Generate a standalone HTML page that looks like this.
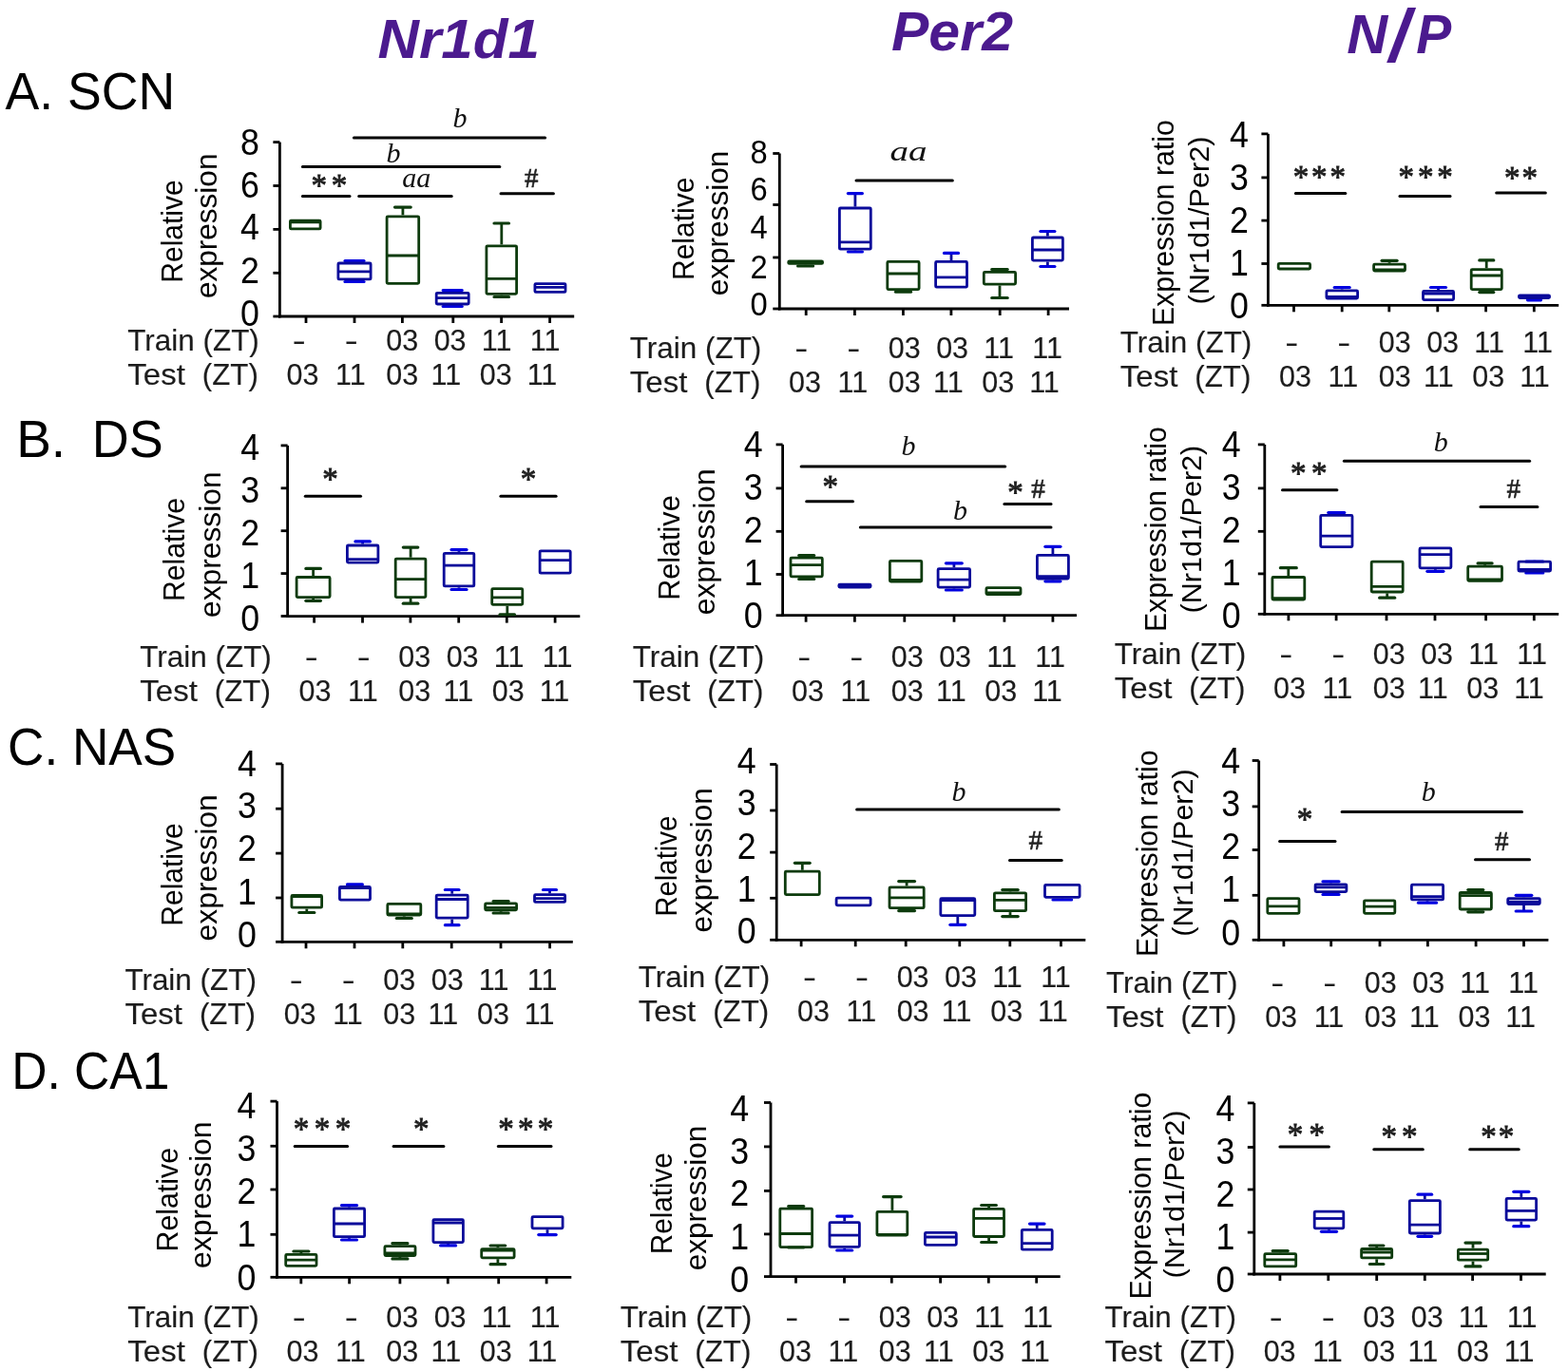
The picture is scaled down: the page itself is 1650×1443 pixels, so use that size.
<!DOCTYPE html><html><head><meta charset="utf-8"><title>Figure</title><style>html,body{margin:0;padding:0;background:#fff;}svg{display:block;}</style></head><body>
<svg width="1650" height="1443" viewBox="0 0 1650 1443">
<rect width="1650" height="1443" fill="#fff"/>
<g font-family="Liberation Sans" font-weight="bold" font-style="italic" font-size="57" fill="#4b1a8e">
<text x="397.5" y="61.3" textLength="170.5" lengthAdjust="spacingAndGlyphs">Nr1d1</text>
<text x="938" y="52.7" textLength="128" lengthAdjust="spacingAndGlyphs">Per2</text>
<text x="1417.2" y="55.8" textLength="43" lengthAdjust="spacingAndGlyphs">N</text>
<text x="1462" y="65.0" font-size="77">/</text>
<text x="1490.3" y="55.8" textLength="37" lengthAdjust="spacingAndGlyphs">P</text>
</g>
<g font-family="Liberation Sans" font-size="55" fill="#000">
<text x="5.5" y="115.2" textLength="178.8" lengthAdjust="spacingAndGlyphs">A. SCN</text>
<text x="17.2" y="481.1">B.</text><text x="96.8" y="481.1" textLength="75" lengthAdjust="spacingAndGlyphs">DS</text>
<text x="8.0" y="804.8" textLength="177.3" lengthAdjust="spacingAndGlyphs">C. NAS</text>
<text x="12.2" y="1145.5" textLength="166.3" lengthAdjust="spacingAndGlyphs">D. CA1</text>
</g>
<line x1="294.4" y1="149.6" x2="294.4" y2="334.4" stroke="#000" stroke-width="2.8" stroke-linecap="butt"/>
<line x1="293.0" y1="333.0" x2="604.2" y2="333.0" stroke="#000" stroke-width="2.8" stroke-linecap="butt"/>
<line x1="287.4" y1="149.6" x2="294.4" y2="149.6" stroke="#000" stroke-width="2.8" stroke-linecap="butt"/>
<line x1="287.4" y1="195.5" x2="294.4" y2="195.5" stroke="#000" stroke-width="2.8" stroke-linecap="butt"/>
<line x1="287.4" y1="241.4" x2="294.4" y2="241.4" stroke="#000" stroke-width="2.8" stroke-linecap="butt"/>
<line x1="287.4" y1="287.3" x2="294.4" y2="287.3" stroke="#000" stroke-width="2.8" stroke-linecap="butt"/>
<line x1="287.4" y1="333.0" x2="294.4" y2="333.0" stroke="#000" stroke-width="2.8" stroke-linecap="butt"/>
<line x1="322.0" y1="333.0" x2="322.0" y2="340.0" stroke="#000" stroke-width="2.8" stroke-linecap="butt"/>
<line x1="373.0" y1="333.0" x2="373.0" y2="340.0" stroke="#000" stroke-width="2.8" stroke-linecap="butt"/>
<line x1="423.4" y1="333.0" x2="423.4" y2="340.0" stroke="#000" stroke-width="2.8" stroke-linecap="butt"/>
<line x1="476.8" y1="333.0" x2="476.8" y2="340.0" stroke="#000" stroke-width="2.8" stroke-linecap="butt"/>
<line x1="527.6" y1="333.0" x2="527.6" y2="340.0" stroke="#000" stroke-width="2.8" stroke-linecap="butt"/>
<line x1="578.6" y1="333.0" x2="578.6" y2="340.0" stroke="#000" stroke-width="2.8" stroke-linecap="butt"/>
<text x="252.9" y="163.2" font-size="39" font-family="Liberation Sans" fill="#000" textLength="19.9" lengthAdjust="spacingAndGlyphs">8</text>
<text x="252.9" y="207.6" font-size="39" font-family="Liberation Sans" fill="#000" textLength="19.9" lengthAdjust="spacingAndGlyphs">6</text>
<text x="252.9" y="252.4" font-size="39" font-family="Liberation Sans" fill="#000" textLength="19.9" lengthAdjust="spacingAndGlyphs">4</text>
<text x="252.9" y="298.0" font-size="39" font-family="Liberation Sans" fill="#000" textLength="19.9" lengthAdjust="spacingAndGlyphs">2</text>
<text x="252.9" y="342.9" font-size="39" font-family="Liberation Sans" fill="#000" textLength="19.9" lengthAdjust="spacingAndGlyphs">0</text>
<rect x="305.4" y="232.1" width="31.7" height="8.8" fill="none" stroke="#0d3b0d" stroke-width="2.8" rx="1"/>
<line x1="305.4" y1="233.8" x2="337.1" y2="233.8" stroke="#0d3b0d" stroke-width="2.8" stroke-linecap="butt"/>
<line x1="373.0" y1="274.5" x2="373.0" y2="275.6" stroke="#0a0a9a" stroke-width="2.8" stroke-linecap="butt"/>
<line x1="363.0" y1="274.5" x2="383.0" y2="274.5" stroke="#0000e0" stroke-width="3.2" stroke-linecap="round"/>
<line x1="373.0" y1="295.3" x2="373.0" y2="296.5" stroke="#0a0a9a" stroke-width="2.8" stroke-linecap="butt"/>
<line x1="363.0" y1="296.5" x2="383.0" y2="296.5" stroke="#0000e0" stroke-width="3.2" stroke-linecap="round"/>
<rect x="355.9" y="277.0" width="34.2" height="16.9" fill="none" stroke="#0a0a9a" stroke-width="2.8" rx="1"/>
<line x1="355.9" y1="285.9" x2="390.1" y2="285.9" stroke="#0a0a9a" stroke-width="2.8" stroke-linecap="butt"/>
<line x1="423.9" y1="218.1" x2="423.9" y2="226.4" stroke="#0d3b0d" stroke-width="2.8" stroke-linecap="butt"/>
<line x1="415.5" y1="218.1" x2="432.2" y2="218.1" stroke="#0d3b0d" stroke-width="3.2" stroke-linecap="round"/>
<rect x="407.1" y="227.8" width="33.6" height="70.5" fill="none" stroke="#0d3b0d" stroke-width="2.8" rx="1"/>
<line x1="407.1" y1="269.0" x2="440.7" y2="269.0" stroke="#0d3b0d" stroke-width="2.8" stroke-linecap="butt"/>
<line x1="476.2" y1="305.5" x2="476.2" y2="306.9" stroke="#0a0a9a" stroke-width="2.8" stroke-linecap="butt"/>
<line x1="466.2" y1="305.5" x2="486.2" y2="305.5" stroke="#0000e0" stroke-width="3.2" stroke-linecap="round"/>
<line x1="476.2" y1="321.4" x2="476.2" y2="322.5" stroke="#0a0a9a" stroke-width="2.8" stroke-linecap="butt"/>
<line x1="466.2" y1="322.5" x2="486.2" y2="322.5" stroke="#0000e0" stroke-width="3.2" stroke-linecap="round"/>
<rect x="459.2" y="308.3" width="34.0" height="11.7" fill="none" stroke="#0a0a9a" stroke-width="2.8" rx="1"/>
<line x1="459.2" y1="313.6" x2="493.2" y2="313.6" stroke="#0a0a9a" stroke-width="2.8" stroke-linecap="butt"/>
<line x1="527.8" y1="235.0" x2="527.8" y2="257.4" stroke="#0d3b0d" stroke-width="2.8" stroke-linecap="butt"/>
<line x1="520.0" y1="235.0" x2="535.5" y2="235.0" stroke="#0d3b0d" stroke-width="3.2" stroke-linecap="round"/>
<line x1="527.8" y1="310.7" x2="527.8" y2="312.5" stroke="#0d3b0d" stroke-width="2.8" stroke-linecap="butt"/>
<line x1="520.0" y1="312.5" x2="535.5" y2="312.5" stroke="#0d3b0d" stroke-width="3.2" stroke-linecap="round"/>
<rect x="511.9" y="258.8" width="31.7" height="50.5" fill="none" stroke="#0d3b0d" stroke-width="2.8" rx="1"/>
<line x1="511.9" y1="293.3" x2="543.6" y2="293.3" stroke="#0d3b0d" stroke-width="2.8" stroke-linecap="butt"/>
<rect x="562.9" y="298.6" width="32.1" height="8.8" fill="none" stroke="#0a0a9a" stroke-width="2.8" rx="1"/>
<line x1="562.9" y1="302.4" x2="595.0" y2="302.4" stroke="#0a0a9a" stroke-width="2.8" stroke-linecap="butt"/>
<line x1="318.4" y1="206.4" x2="368.0" y2="206.4" stroke="#000" stroke-width="3.0" stroke-linecap="round"/>
<text x="335.8 356.9" y="205.5" font-size="33" text-anchor="middle" font-family="Liberation Serif" fill="#1e1e1e" stroke="#1e1e1e" stroke-width="0.85">**</text>
<line x1="377.7" y1="206.4" x2="475.2" y2="206.4" stroke="#000" stroke-width="3.0" stroke-linecap="round"/>
<text x="438.3" y="196.7" font-size="30" text-anchor="middle" font-family="Liberation Serif" fill="#111" font-style="italic">aa</text>
<line x1="318.4" y1="175.6" x2="525.8" y2="175.6" stroke="#000" stroke-width="3.0" stroke-linecap="round"/>
<text x="414.0" y="170.9" font-size="30" text-anchor="middle" font-family="Liberation Serif" fill="#111" font-style="italic">b</text>
<line x1="372.4" y1="144.9" x2="573.6" y2="144.9" stroke="#000" stroke-width="3.0" stroke-linecap="round"/>
<text x="484.0" y="134.3" font-size="30" text-anchor="middle" font-family="Liberation Serif" fill="#111" font-style="italic">b</text>
<line x1="527.0" y1="203.8" x2="582.4" y2="203.8" stroke="#000" stroke-width="3.0" stroke-linecap="round"/>
<text x="559.2" y="196.7" font-size="29" text-anchor="middle" font-family="Liberation Serif" fill="#222" stroke="#222" stroke-width="0.6">#</text>
<text transform="translate(191.7,243.5) rotate(-90)" font-size="32" text-anchor="middle" font-family="Liberation Sans" fill="#000" textLength="108.5" lengthAdjust="spacingAndGlyphs">Relative</text>
<text transform="translate(228.3,237.8) rotate(-90)" font-size="32" text-anchor="middle" font-family="Liberation Sans" fill="#000" textLength="152.5" lengthAdjust="spacingAndGlyphs">expression</text>
<g fill="#1c1c1c" stroke="#1c1c1c" stroke-width="0.15" font-family="Liberation Sans" font-size="30.5">
<text x="134.3" y="368.9" textLength="138.5" lengthAdjust="spacingAndGlyphs">Train (ZT)</text>
<text x="134.3" y="404.9" textLength="60.5" lengthAdjust="spacingAndGlyphs">Test</text>
<text x="212.8" y="404.9" textLength="59.0" lengthAdjust="spacingAndGlyphs">(ZT)</text>
<text x="307.7" y="368.9" textLength="14" lengthAdjust="spacingAndGlyphs">-</text>
<text x="362.7" y="368.9" textLength="14" lengthAdjust="spacingAndGlyphs">-</text>
<text x="423.2" y="368.9" text-anchor="middle">03</text>
<text x="473.6" y="368.9" text-anchor="middle">03</text>
<text x="522.6" y="368.9" text-anchor="middle">11</text>
<text x="573.6" y="368.9" text-anchor="middle">11</text>
<text x="318.5" y="404.9" text-anchor="middle">03</text>
<text x="368.9" y="404.9" text-anchor="middle">11</text>
<text x="423.2" y="404.9" text-anchor="middle">03</text>
<text x="469.3" y="404.9" text-anchor="middle">11</text>
<text x="521.8" y="404.9" text-anchor="middle">03</text>
<text x="570.5" y="404.9" text-anchor="middle">11</text>
</g>
<line x1="820.3" y1="161.5" x2="820.3" y2="326.4" stroke="#000" stroke-width="2.8" stroke-linecap="butt"/>
<line x1="818.9" y1="325.0" x2="1125.0" y2="325.0" stroke="#000" stroke-width="2.8" stroke-linecap="butt"/>
<line x1="813.3" y1="161.5" x2="820.3" y2="161.5" stroke="#000" stroke-width="2.8" stroke-linecap="butt"/>
<line x1="813.3" y1="215.5" x2="820.3" y2="215.5" stroke="#000" stroke-width="2.8" stroke-linecap="butt"/>
<line x1="813.3" y1="271.0" x2="820.3" y2="271.0" stroke="#000" stroke-width="2.8" stroke-linecap="butt"/>
<line x1="813.3" y1="325.0" x2="820.3" y2="325.0" stroke="#000" stroke-width="2.8" stroke-linecap="butt"/>
<line x1="848.2" y1="325.0" x2="848.2" y2="332.0" stroke="#000" stroke-width="2.8" stroke-linecap="butt"/>
<line x1="899.4" y1="325.0" x2="899.4" y2="332.0" stroke="#000" stroke-width="2.8" stroke-linecap="butt"/>
<line x1="950.4" y1="325.0" x2="950.4" y2="332.0" stroke="#000" stroke-width="2.8" stroke-linecap="butt"/>
<line x1="1000.9" y1="325.0" x2="1000.9" y2="332.0" stroke="#000" stroke-width="2.8" stroke-linecap="butt"/>
<line x1="1052.2" y1="325.0" x2="1052.2" y2="332.0" stroke="#000" stroke-width="2.8" stroke-linecap="butt"/>
<line x1="1103.1" y1="325.0" x2="1103.1" y2="332.0" stroke="#000" stroke-width="2.8" stroke-linecap="butt"/>
<text x="789.4" y="171.7" font-size="35.5" font-family="Liberation Sans" fill="#000" textLength="18.2" lengthAdjust="spacingAndGlyphs">8</text>
<text x="789.4" y="211.0" font-size="35.5" font-family="Liberation Sans" fill="#000" textLength="18.2" lengthAdjust="spacingAndGlyphs">6</text>
<text x="789.4" y="250.7" font-size="35.5" font-family="Liberation Sans" fill="#000" textLength="18.2" lengthAdjust="spacingAndGlyphs">4</text>
<text x="789.4" y="292.5" font-size="35.5" font-family="Liberation Sans" fill="#000" textLength="18.2" lengthAdjust="spacingAndGlyphs">2</text>
<text x="789.4" y="331.8" font-size="35.5" font-family="Liberation Sans" fill="#000" textLength="18.2" lengthAdjust="spacingAndGlyphs">0</text>
<line x1="847.6" y1="278.8" x2="847.6" y2="280.0" stroke="#0d3b0d" stroke-width="2.8" stroke-linecap="butt"/>
<line x1="839.6" y1="280.0" x2="855.6" y2="280.0" stroke="#0d3b0d" stroke-width="3.2" stroke-linecap="round"/>
<rect x="829.7" y="274.9" width="35.9" height="2.5" fill="#0d3b0d" stroke="#0d3b0d" stroke-width="2.8" rx="1"/>
<line x1="899.9" y1="203.6" x2="899.9" y2="217.6" stroke="#0a0a9a" stroke-width="2.8" stroke-linecap="butt"/>
<line x1="892.4" y1="203.6" x2="907.4" y2="203.6" stroke="#0000e0" stroke-width="3.2" stroke-linecap="round"/>
<line x1="899.9" y1="263.6" x2="899.9" y2="265.0" stroke="#0a0a9a" stroke-width="2.8" stroke-linecap="butt"/>
<line x1="892.4" y1="265.0" x2="907.4" y2="265.0" stroke="#0000e0" stroke-width="3.2" stroke-linecap="round"/>
<rect x="883.4" y="219.0" width="32.9" height="43.2" fill="none" stroke="#0a0a9a" stroke-width="2.8" rx="1"/>
<line x1="883.4" y1="254.8" x2="916.3" y2="254.8" stroke="#0a0a9a" stroke-width="2.8" stroke-linecap="butt"/>
<line x1="950.5" y1="306.0" x2="950.5" y2="307.2" stroke="#0d3b0d" stroke-width="2.8" stroke-linecap="butt"/>
<line x1="942.5" y1="307.2" x2="958.5" y2="307.2" stroke="#0d3b0d" stroke-width="3.2" stroke-linecap="round"/>
<rect x="933.8" y="275.4" width="33.3" height="29.2" fill="none" stroke="#0d3b0d" stroke-width="2.8" rx="1"/>
<line x1="933.8" y1="288.0" x2="967.1" y2="288.0" stroke="#0d3b0d" stroke-width="2.8" stroke-linecap="butt"/>
<line x1="1001.0" y1="266.4" x2="1001.0" y2="274.0" stroke="#0a0a9a" stroke-width="2.8" stroke-linecap="butt"/>
<line x1="993.5" y1="266.4" x2="1008.5" y2="266.4" stroke="#0000e0" stroke-width="3.2" stroke-linecap="round"/>
<rect x="984.6" y="275.4" width="32.9" height="26.8" fill="none" stroke="#0a0a9a" stroke-width="2.8" rx="1"/>
<line x1="984.6" y1="291.8" x2="1017.5" y2="291.8" stroke="#0a0a9a" stroke-width="2.8" stroke-linecap="butt"/>
<line x1="1052.0" y1="283.5" x2="1052.0" y2="285.0" stroke="#0d3b0d" stroke-width="2.8" stroke-linecap="butt"/>
<line x1="1043.7" y1="283.5" x2="1060.2" y2="283.5" stroke="#0d3b0d" stroke-width="3.2" stroke-linecap="round"/>
<line x1="1052.0" y1="300.5" x2="1052.0" y2="313.5" stroke="#0d3b0d" stroke-width="2.8" stroke-linecap="butt"/>
<line x1="1043.7" y1="313.5" x2="1060.2" y2="313.5" stroke="#0d3b0d" stroke-width="3.2" stroke-linecap="round"/>
<rect x="1035.3" y="286.4" width="33.3" height="12.7" fill="none" stroke="#0d3b0d" stroke-width="2.8" rx="1"/>
<line x1="1102.4" y1="243.5" x2="1102.4" y2="248.6" stroke="#0a0a9a" stroke-width="2.8" stroke-linecap="butt"/>
<line x1="1094.9" y1="243.5" x2="1109.9" y2="243.5" stroke="#0000e0" stroke-width="3.2" stroke-linecap="round"/>
<line x1="1102.4" y1="275.5" x2="1102.4" y2="280.5" stroke="#0a0a9a" stroke-width="2.8" stroke-linecap="butt"/>
<line x1="1094.9" y1="280.5" x2="1109.9" y2="280.5" stroke="#0000e0" stroke-width="3.2" stroke-linecap="round"/>
<rect x="1086.4" y="250.0" width="32.0" height="24.1" fill="none" stroke="#0a0a9a" stroke-width="2.8" rx="1"/>
<line x1="1086.4" y1="263.0" x2="1118.4" y2="263.0" stroke="#0a0a9a" stroke-width="2.8" stroke-linecap="butt"/>
<line x1="901.0" y1="190.0" x2="1002.3" y2="190.0" stroke="#000" stroke-width="3.0" stroke-linecap="round"/>
<text x="936.4" y="168.5" font-size="30" font-family="Liberation Serif" font-style="italic" fill="#111" textLength="39" lengthAdjust="spacingAndGlyphs">aa</text>
<text transform="translate(730.0,240.8) rotate(-90)" font-size="32" text-anchor="middle" font-family="Liberation Sans" fill="#000" textLength="108.5" lengthAdjust="spacingAndGlyphs">Relative</text>
<text transform="translate(765.5,235.0) rotate(-90)" font-size="32" text-anchor="middle" font-family="Liberation Sans" fill="#000" textLength="152.5" lengthAdjust="spacingAndGlyphs">expression</text>
<g fill="#1c1c1c" stroke="#1c1c1c" stroke-width="0.15" font-family="Liberation Sans" font-size="30.5">
<text x="662.8" y="376.9" textLength="138.5" lengthAdjust="spacingAndGlyphs">Train (ZT)</text>
<text x="662.8" y="412.9" textLength="60.5" lengthAdjust="spacingAndGlyphs">Test</text>
<text x="741.3" y="412.9" textLength="59.0" lengthAdjust="spacingAndGlyphs">(ZT)</text>
<text x="836.2" y="376.9" textLength="14" lengthAdjust="spacingAndGlyphs">-</text>
<text x="891.2" y="376.9" textLength="14" lengthAdjust="spacingAndGlyphs">-</text>
<text x="951.7" y="376.9" text-anchor="middle">03</text>
<text x="1002.1" y="376.9" text-anchor="middle">03</text>
<text x="1051.1" y="376.9" text-anchor="middle">11</text>
<text x="1102.1" y="376.9" text-anchor="middle">11</text>
<text x="847.0" y="412.9" text-anchor="middle">03</text>
<text x="897.4" y="412.9" text-anchor="middle">11</text>
<text x="951.7" y="412.9" text-anchor="middle">03</text>
<text x="997.8" y="412.9" text-anchor="middle">11</text>
<text x="1050.3" y="412.9" text-anchor="middle">03</text>
<text x="1099.0" y="412.9" text-anchor="middle">11</text>
</g>
<line x1="1334.4" y1="140.9" x2="1334.4" y2="322.7" stroke="#000" stroke-width="2.8" stroke-linecap="butt"/>
<line x1="1333.0" y1="321.3" x2="1640.2" y2="321.3" stroke="#000" stroke-width="2.8" stroke-linecap="butt"/>
<line x1="1327.4" y1="140.9" x2="1334.4" y2="140.9" stroke="#000" stroke-width="2.8" stroke-linecap="butt"/>
<line x1="1327.4" y1="186.9" x2="1334.4" y2="186.9" stroke="#000" stroke-width="2.8" stroke-linecap="butt"/>
<line x1="1327.4" y1="232.1" x2="1334.4" y2="232.1" stroke="#000" stroke-width="2.8" stroke-linecap="butt"/>
<line x1="1327.4" y1="277.5" x2="1334.4" y2="277.5" stroke="#000" stroke-width="2.8" stroke-linecap="butt"/>
<line x1="1327.4" y1="321.3" x2="1334.4" y2="321.3" stroke="#000" stroke-width="2.8" stroke-linecap="butt"/>
<line x1="1361.5" y1="321.3" x2="1361.5" y2="328.3" stroke="#000" stroke-width="2.8" stroke-linecap="butt"/>
<line x1="1412.2" y1="321.3" x2="1412.2" y2="328.3" stroke="#000" stroke-width="2.8" stroke-linecap="butt"/>
<line x1="1461.8" y1="321.3" x2="1461.8" y2="328.3" stroke="#000" stroke-width="2.8" stroke-linecap="butt"/>
<line x1="1512.8" y1="321.3" x2="1512.8" y2="328.3" stroke="#000" stroke-width="2.8" stroke-linecap="butt"/>
<line x1="1563.6" y1="321.3" x2="1563.6" y2="328.3" stroke="#000" stroke-width="2.8" stroke-linecap="butt"/>
<line x1="1614.3" y1="321.3" x2="1614.3" y2="328.3" stroke="#000" stroke-width="2.8" stroke-linecap="butt"/>
<text x="1294.1" y="154.5" font-size="39" font-family="Liberation Sans" fill="#000" textLength="19.9" lengthAdjust="spacingAndGlyphs">4</text>
<text x="1294.1" y="200.0" font-size="39" font-family="Liberation Sans" fill="#000" textLength="19.9" lengthAdjust="spacingAndGlyphs">3</text>
<text x="1294.1" y="245.3" font-size="39" font-family="Liberation Sans" fill="#000" textLength="19.9" lengthAdjust="spacingAndGlyphs">2</text>
<text x="1294.1" y="290.0" font-size="39" font-family="Liberation Sans" fill="#000" textLength="19.9" lengthAdjust="spacingAndGlyphs">1</text>
<text x="1294.1" y="334.7" font-size="39" font-family="Liberation Sans" fill="#000" textLength="19.9" lengthAdjust="spacingAndGlyphs">0</text>
<rect x="1345.2" y="277.4" width="33.4" height="5.6" fill="none" stroke="#0d3b0d" stroke-width="2.8" rx="1"/>
<line x1="1412.2" y1="302.5" x2="1412.2" y2="304.5" stroke="#0a0a9a" stroke-width="2.8" stroke-linecap="butt"/>
<line x1="1404.2" y1="302.5" x2="1420.2" y2="302.5" stroke="#0000e0" stroke-width="3.2" stroke-linecap="round"/>
<rect x="1395.9" y="305.9" width="32.7" height="8.2" fill="none" stroke="#0a0a9a" stroke-width="2.8" rx="1"/>
<line x1="1395.9" y1="312.3" x2="1428.6" y2="312.3" stroke="#0a0a9a" stroke-width="2.8" stroke-linecap="butt"/>
<line x1="1462.1" y1="274.3" x2="1462.1" y2="276.8" stroke="#0d3b0d" stroke-width="2.8" stroke-linecap="butt"/>
<line x1="1454.1" y1="274.3" x2="1470.1" y2="274.3" stroke="#0d3b0d" stroke-width="3.2" stroke-linecap="round"/>
<rect x="1445.6" y="278.2" width="32.9" height="6.8" fill="none" stroke="#0d3b0d" stroke-width="2.8" rx="1"/>
<line x1="1445.6" y1="283.8" x2="1478.5" y2="283.8" stroke="#0d3b0d" stroke-width="2.8" stroke-linecap="butt"/>
<line x1="1513.5" y1="302.5" x2="1513.5" y2="305.0" stroke="#0a0a9a" stroke-width="2.8" stroke-linecap="butt"/>
<line x1="1505.5" y1="302.5" x2="1521.5" y2="302.5" stroke="#0000e0" stroke-width="3.2" stroke-linecap="round"/>
<rect x="1497.5" y="306.4" width="32.1" height="9.2" fill="none" stroke="#0a0a9a" stroke-width="2.8" rx="1"/>
<line x1="1497.5" y1="309.2" x2="1529.6" y2="309.2" stroke="#0a0a9a" stroke-width="2.8" stroke-linecap="butt"/>
<line x1="1564.2" y1="273.9" x2="1564.2" y2="282.3" stroke="#0d3b0d" stroke-width="2.8" stroke-linecap="butt"/>
<line x1="1556.8" y1="273.9" x2="1571.8" y2="273.9" stroke="#0d3b0d" stroke-width="3.2" stroke-linecap="round"/>
<line x1="1564.2" y1="306.0" x2="1564.2" y2="307.6" stroke="#0d3b0d" stroke-width="2.8" stroke-linecap="butt"/>
<line x1="1556.8" y1="307.6" x2="1571.8" y2="307.6" stroke="#0d3b0d" stroke-width="3.2" stroke-linecap="round"/>
<rect x="1548.2" y="283.7" width="32.1" height="20.9" fill="none" stroke="#0d3b0d" stroke-width="2.8" rx="1"/>
<line x1="1548.2" y1="290.0" x2="1580.3" y2="290.0" stroke="#0d3b0d" stroke-width="2.8" stroke-linecap="butt"/>
<line x1="1614.5" y1="315.0" x2="1614.5" y2="315.8" stroke="#0a0a9a" stroke-width="2.8" stroke-linecap="butt"/>
<line x1="1607.5" y1="315.8" x2="1621.5" y2="315.8" stroke="#0000e0" stroke-width="3.2" stroke-linecap="round"/>
<rect x="1598.4" y="311.0" width="32.2" height="2.6" fill="#0a0a9a" stroke="#0a0a9a" stroke-width="2.8" rx="1"/>
<line x1="1363.4" y1="203.6" x2="1415.8" y2="203.6" stroke="#000" stroke-width="3.0" stroke-linecap="round"/>
<text x="1369.0 1388.3 1407.7" y="196.5" font-size="33" text-anchor="middle" font-family="Liberation Serif" fill="#1e1e1e" stroke="#1e1e1e" stroke-width="0.85">***</text>
<line x1="1473.0" y1="206.4" x2="1526.0" y2="206.4" stroke="#000" stroke-width="3.0" stroke-linecap="round"/>
<text x="1479.8 1500.2 1520.5" y="196.5" font-size="33" text-anchor="middle" font-family="Liberation Serif" fill="#1e1e1e" stroke="#1e1e1e" stroke-width="0.85">***</text>
<line x1="1574.7" y1="203.0" x2="1626.3" y2="203.0" stroke="#000" stroke-width="3.0" stroke-linecap="round"/>
<text x="1591.2 1609.8" y="197.5" font-size="33" text-anchor="middle" font-family="Liberation Serif" fill="#1e1e1e" stroke="#1e1e1e" stroke-width="0.85">**</text>
<text transform="translate(1235.0,234.6) rotate(-90)" font-size="31" text-anchor="middle" font-family="Liberation Sans" fill="#000" textLength="216.7" lengthAdjust="spacingAndGlyphs">Expression ratio</text>
<text transform="translate(1272.2,232.0) rotate(-90)" font-size="29.5" text-anchor="middle" font-family="Liberation Sans" fill="#000" textLength="177.0" lengthAdjust="spacingAndGlyphs">(Nr1d1/Per2)</text>
<g fill="#1c1c1c" stroke="#1c1c1c" stroke-width="0.15" font-family="Liberation Sans" font-size="30.5">
<text x="1178.8" y="371.0" textLength="138.5" lengthAdjust="spacingAndGlyphs">Train (ZT)</text>
<text x="1178.8" y="407.0" textLength="60.5" lengthAdjust="spacingAndGlyphs">Test</text>
<text x="1257.3" y="407.0" textLength="59.0" lengthAdjust="spacingAndGlyphs">(ZT)</text>
<text x="1352.2" y="371.0" textLength="14" lengthAdjust="spacingAndGlyphs">-</text>
<text x="1407.2" y="371.0" textLength="14" lengthAdjust="spacingAndGlyphs">-</text>
<text x="1467.7" y="371.0" text-anchor="middle">03</text>
<text x="1518.1" y="371.0" text-anchor="middle">03</text>
<text x="1567.1" y="371.0" text-anchor="middle">11</text>
<text x="1618.1" y="371.0" text-anchor="middle">11</text>
<text x="1363.0" y="407.0" text-anchor="middle">03</text>
<text x="1413.4" y="407.0" text-anchor="middle">11</text>
<text x="1467.7" y="407.0" text-anchor="middle">03</text>
<text x="1513.8" y="407.0" text-anchor="middle">11</text>
<text x="1566.3" y="407.0" text-anchor="middle">03</text>
<text x="1615.0" y="407.0" text-anchor="middle">11</text>
</g>
<line x1="302.6" y1="468.9" x2="302.6" y2="650.0" stroke="#000" stroke-width="2.8" stroke-linecap="butt"/>
<line x1="301.2" y1="648.6" x2="610.3" y2="648.6" stroke="#000" stroke-width="2.8" stroke-linecap="butt"/>
<line x1="295.6" y1="468.9" x2="302.6" y2="468.9" stroke="#000" stroke-width="2.8" stroke-linecap="butt"/>
<line x1="295.6" y1="513.8" x2="302.6" y2="513.8" stroke="#000" stroke-width="2.8" stroke-linecap="butt"/>
<line x1="295.6" y1="558.7" x2="302.6" y2="558.7" stroke="#000" stroke-width="2.8" stroke-linecap="butt"/>
<line x1="295.6" y1="603.6" x2="302.6" y2="603.6" stroke="#000" stroke-width="2.8" stroke-linecap="butt"/>
<line x1="295.6" y1="648.5" x2="302.6" y2="648.5" stroke="#000" stroke-width="2.8" stroke-linecap="butt"/>
<line x1="330.6" y1="648.6" x2="330.6" y2="655.6" stroke="#000" stroke-width="2.8" stroke-linecap="butt"/>
<line x1="381.5" y1="648.6" x2="381.5" y2="655.6" stroke="#000" stroke-width="2.8" stroke-linecap="butt"/>
<line x1="431.9" y1="648.6" x2="431.9" y2="655.6" stroke="#000" stroke-width="2.8" stroke-linecap="butt"/>
<line x1="482.7" y1="648.6" x2="482.7" y2="655.6" stroke="#000" stroke-width="2.8" stroke-linecap="butt"/>
<line x1="533.3" y1="648.6" x2="533.3" y2="655.6" stroke="#000" stroke-width="2.8" stroke-linecap="butt"/>
<line x1="584.1" y1="648.6" x2="584.1" y2="655.6" stroke="#000" stroke-width="2.8" stroke-linecap="butt"/>
<text x="253.3" y="484.0" font-size="39" font-family="Liberation Sans" fill="#000" textLength="19.9" lengthAdjust="spacingAndGlyphs">4</text>
<text x="253.3" y="528.8" font-size="39" font-family="Liberation Sans" fill="#000" textLength="19.9" lengthAdjust="spacingAndGlyphs">3</text>
<text x="253.3" y="573.6" font-size="39" font-family="Liberation Sans" fill="#000" textLength="19.9" lengthAdjust="spacingAndGlyphs">2</text>
<text x="253.3" y="618.8" font-size="39" font-family="Liberation Sans" fill="#000" textLength="19.9" lengthAdjust="spacingAndGlyphs">1</text>
<text x="253.3" y="664.0" font-size="39" font-family="Liberation Sans" fill="#000" textLength="19.9" lengthAdjust="spacingAndGlyphs">0</text>
<line x1="329.6" y1="598.4" x2="329.6" y2="606.1" stroke="#0d3b0d" stroke-width="2.8" stroke-linecap="butt"/>
<line x1="321.9" y1="598.4" x2="337.4" y2="598.4" stroke="#0d3b0d" stroke-width="3.2" stroke-linecap="round"/>
<line x1="329.6" y1="630.0" x2="329.6" y2="632.3" stroke="#0d3b0d" stroke-width="2.8" stroke-linecap="butt"/>
<line x1="321.9" y1="632.3" x2="337.4" y2="632.3" stroke="#0d3b0d" stroke-width="3.2" stroke-linecap="round"/>
<rect x="312.1" y="607.5" width="35.0" height="21.1" fill="none" stroke="#0d3b0d" stroke-width="2.8" rx="1"/>
<line x1="381.6" y1="569.9" x2="381.6" y2="572.6" stroke="#0a0a9a" stroke-width="2.8" stroke-linecap="butt"/>
<line x1="373.9" y1="569.9" x2="389.4" y2="569.9" stroke="#0000e0" stroke-width="3.2" stroke-linecap="round"/>
<rect x="365.4" y="574.0" width="32.5" height="18.1" fill="none" stroke="#0a0a9a" stroke-width="2.8" rx="1"/>
<line x1="365.4" y1="588.7" x2="397.9" y2="588.7" stroke="#0a0a9a" stroke-width="2.8" stroke-linecap="butt"/>
<line x1="432.1" y1="576.1" x2="432.1" y2="586.7" stroke="#0d3b0d" stroke-width="2.8" stroke-linecap="butt"/>
<line x1="424.3" y1="576.1" x2="439.8" y2="576.1" stroke="#0d3b0d" stroke-width="3.2" stroke-linecap="round"/>
<line x1="432.1" y1="630.0" x2="432.1" y2="635.2" stroke="#0d3b0d" stroke-width="2.8" stroke-linecap="butt"/>
<line x1="424.3" y1="635.2" x2="439.8" y2="635.2" stroke="#0d3b0d" stroke-width="3.2" stroke-linecap="round"/>
<rect x="416.2" y="588.1" width="31.7" height="40.5" fill="none" stroke="#0d3b0d" stroke-width="2.8" rx="1"/>
<line x1="416.2" y1="609.6" x2="447.9" y2="609.6" stroke="#0d3b0d" stroke-width="2.8" stroke-linecap="butt"/>
<line x1="483.0" y1="578.6" x2="483.0" y2="580.9" stroke="#0a0a9a" stroke-width="2.8" stroke-linecap="butt"/>
<line x1="475.0" y1="578.6" x2="491.0" y2="578.6" stroke="#0000e0" stroke-width="3.2" stroke-linecap="round"/>
<line x1="483.0" y1="618.3" x2="483.0" y2="620.5" stroke="#0a0a9a" stroke-width="2.8" stroke-linecap="butt"/>
<line x1="475.0" y1="620.5" x2="491.0" y2="620.5" stroke="#0000e0" stroke-width="3.2" stroke-linecap="round"/>
<rect x="467.2" y="582.3" width="31.6" height="34.6" fill="none" stroke="#0a0a9a" stroke-width="2.8" rx="1"/>
<line x1="467.2" y1="595.1" x2="498.8" y2="595.1" stroke="#0a0a9a" stroke-width="2.8" stroke-linecap="butt"/>
<line x1="533.8" y1="637.7" x2="533.8" y2="646.9" stroke="#0d3b0d" stroke-width="2.8" stroke-linecap="butt"/>
<line x1="526.0" y1="646.9" x2="541.5" y2="646.9" stroke="#0d3b0d" stroke-width="3.2" stroke-linecap="round"/>
<rect x="517.7" y="619.7" width="32.1" height="16.6" fill="none" stroke="#0d3b0d" stroke-width="2.8" rx="1"/>
<line x1="517.7" y1="628.8" x2="549.8" y2="628.8" stroke="#0d3b0d" stroke-width="2.8" stroke-linecap="butt"/>
<rect x="568.1" y="579.8" width="32.1" height="23.4" fill="none" stroke="#0a0a9a" stroke-width="2.8" rx="1"/>
<line x1="568.1" y1="589.6" x2="600.2" y2="589.6" stroke="#0a0a9a" stroke-width="2.8" stroke-linecap="butt"/>
<line x1="321.3" y1="522.3" x2="379.5" y2="522.3" stroke="#000" stroke-width="3.0" stroke-linecap="round"/>
<text x="347.5" y="515.4" font-size="33" text-anchor="middle" font-family="Liberation Serif" fill="#1e1e1e" stroke="#1e1e1e" stroke-width="0.85">*</text>
<line x1="526.9" y1="522.3" x2="585.1" y2="522.3" stroke="#000" stroke-width="3.0" stroke-linecap="round"/>
<text x="556.0" y="515.4" font-size="33" text-anchor="middle" font-family="Liberation Serif" fill="#1e1e1e" stroke="#1e1e1e" stroke-width="0.85">*</text>
<text transform="translate(194.3,578.5) rotate(-90)" font-size="32" text-anchor="middle" font-family="Liberation Sans" fill="#000" textLength="109.2" lengthAdjust="spacingAndGlyphs">Relative</text>
<text transform="translate(231.7,573.2) rotate(-90)" font-size="32" text-anchor="middle" font-family="Liberation Sans" fill="#000" textLength="153.5" lengthAdjust="spacingAndGlyphs">expression</text>
<g fill="#1c1c1c" stroke="#1c1c1c" stroke-width="0.15" font-family="Liberation Sans" font-size="30.5">
<text x="147.3" y="701.5" textLength="138.5" lengthAdjust="spacingAndGlyphs">Train (ZT)</text>
<text x="147.3" y="737.5" textLength="60.5" lengthAdjust="spacingAndGlyphs">Test</text>
<text x="225.8" y="737.5" textLength="59.0" lengthAdjust="spacingAndGlyphs">(ZT)</text>
<text x="320.7" y="701.5" textLength="14" lengthAdjust="spacingAndGlyphs">-</text>
<text x="375.7" y="701.5" textLength="14" lengthAdjust="spacingAndGlyphs">-</text>
<text x="436.2" y="701.5" text-anchor="middle">03</text>
<text x="486.6" y="701.5" text-anchor="middle">03</text>
<text x="535.6" y="701.5" text-anchor="middle">11</text>
<text x="586.6" y="701.5" text-anchor="middle">11</text>
<text x="331.5" y="737.5" text-anchor="middle">03</text>
<text x="381.9" y="737.5" text-anchor="middle">11</text>
<text x="436.2" y="737.5" text-anchor="middle">03</text>
<text x="482.3" y="737.5" text-anchor="middle">11</text>
<text x="534.8" y="737.5" text-anchor="middle">03</text>
<text x="583.5" y="737.5" text-anchor="middle">11</text>
</g>
<line x1="823.6" y1="467.9" x2="823.6" y2="649.1" stroke="#000" stroke-width="2.8" stroke-linecap="butt"/>
<line x1="822.2" y1="647.7" x2="1133.0" y2="647.7" stroke="#000" stroke-width="2.8" stroke-linecap="butt"/>
<line x1="816.6" y1="467.9" x2="823.6" y2="467.9" stroke="#000" stroke-width="2.8" stroke-linecap="butt"/>
<line x1="816.6" y1="513.9" x2="823.6" y2="513.9" stroke="#000" stroke-width="2.8" stroke-linecap="butt"/>
<line x1="816.6" y1="559.3" x2="823.6" y2="559.3" stroke="#000" stroke-width="2.8" stroke-linecap="butt"/>
<line x1="816.6" y1="604.5" x2="823.6" y2="604.5" stroke="#000" stroke-width="2.8" stroke-linecap="butt"/>
<line x1="816.6" y1="647.7" x2="823.6" y2="647.7" stroke="#000" stroke-width="2.8" stroke-linecap="butt"/>
<line x1="848.1" y1="647.7" x2="848.1" y2="654.7" stroke="#000" stroke-width="2.8" stroke-linecap="butt"/>
<line x1="899.4" y1="647.7" x2="899.4" y2="654.7" stroke="#000" stroke-width="2.8" stroke-linecap="butt"/>
<line x1="951.8" y1="647.7" x2="951.8" y2="654.7" stroke="#000" stroke-width="2.8" stroke-linecap="butt"/>
<line x1="1004.0" y1="647.7" x2="1004.0" y2="654.7" stroke="#000" stroke-width="2.8" stroke-linecap="butt"/>
<line x1="1056.9" y1="647.7" x2="1056.9" y2="654.7" stroke="#000" stroke-width="2.8" stroke-linecap="butt"/>
<line x1="1107.9" y1="647.7" x2="1107.9" y2="654.7" stroke="#000" stroke-width="2.8" stroke-linecap="butt"/>
<text x="782.7" y="481.2" font-size="39" font-family="Liberation Sans" fill="#000" textLength="19.9" lengthAdjust="spacingAndGlyphs">4</text>
<text x="782.7" y="526.0" font-size="39" font-family="Liberation Sans" fill="#000" textLength="19.9" lengthAdjust="spacingAndGlyphs">3</text>
<text x="782.7" y="571.3" font-size="39" font-family="Liberation Sans" fill="#000" textLength="19.9" lengthAdjust="spacingAndGlyphs">2</text>
<text x="782.7" y="616.1" font-size="39" font-family="Liberation Sans" fill="#000" textLength="19.9" lengthAdjust="spacingAndGlyphs">1</text>
<text x="782.7" y="660.9" font-size="39" font-family="Liberation Sans" fill="#000" textLength="19.9" lengthAdjust="spacingAndGlyphs">0</text>
<line x1="848.7" y1="584.5" x2="848.7" y2="585.7" stroke="#0d3b0d" stroke-width="2.8" stroke-linecap="butt"/>
<line x1="840.7" y1="584.5" x2="856.7" y2="584.5" stroke="#0d3b0d" stroke-width="3.2" stroke-linecap="round"/>
<line x1="848.7" y1="608.2" x2="848.7" y2="609.5" stroke="#0d3b0d" stroke-width="2.8" stroke-linecap="butt"/>
<line x1="840.7" y1="609.5" x2="856.7" y2="609.5" stroke="#0d3b0d" stroke-width="3.2" stroke-linecap="round"/>
<rect x="832.0" y="587.1" width="33.3" height="19.7" fill="none" stroke="#0d3b0d" stroke-width="2.8" rx="1"/>
<line x1="832.0" y1="594.7" x2="865.3" y2="594.7" stroke="#0d3b0d" stroke-width="2.8" stroke-linecap="butt"/>
<rect x="882.8" y="615.2" width="33.3" height="2.9" fill="#0a0a9a" stroke="#0a0a9a" stroke-width="2.8" rx="1"/>
<rect x="936.4" y="590.4" width="33.4" height="21.7" fill="none" stroke="#0d3b0d" stroke-width="2.8" rx="1"/>
<line x1="936.4" y1="610.5" x2="969.8" y2="610.5" stroke="#0d3b0d" stroke-width="2.8" stroke-linecap="butt"/>
<line x1="1003.9" y1="592.8" x2="1003.9" y2="597.3" stroke="#0a0a9a" stroke-width="2.8" stroke-linecap="butt"/>
<line x1="995.4" y1="592.8" x2="1012.3" y2="592.8" stroke="#0000e0" stroke-width="3.2" stroke-linecap="round"/>
<line x1="1003.9" y1="619.5" x2="1003.9" y2="621.0" stroke="#0a0a9a" stroke-width="2.8" stroke-linecap="butt"/>
<line x1="995.4" y1="621.0" x2="1012.3" y2="621.0" stroke="#0000e0" stroke-width="3.2" stroke-linecap="round"/>
<rect x="987.1" y="598.7" width="33.5" height="19.4" fill="none" stroke="#0a0a9a" stroke-width="2.8" rx="1"/>
<line x1="987.1" y1="610.1" x2="1020.6" y2="610.1" stroke="#0a0a9a" stroke-width="2.8" stroke-linecap="butt"/>
<rect x="1037.9" y="618.7" width="36.1" height="6.9" fill="none" stroke="#0d3b0d" stroke-width="2.8" rx="1"/>
<line x1="1037.9" y1="624.0" x2="1074.0" y2="624.0" stroke="#0d3b0d" stroke-width="2.8" stroke-linecap="butt"/>
<line x1="1107.9" y1="575.3" x2="1107.9" y2="583.0" stroke="#0a0a9a" stroke-width="2.8" stroke-linecap="butt"/>
<line x1="1099.9" y1="575.3" x2="1115.9" y2="575.3" stroke="#0000e0" stroke-width="3.2" stroke-linecap="round"/>
<line x1="1107.9" y1="610.5" x2="1107.9" y2="611.8" stroke="#0a0a9a" stroke-width="2.8" stroke-linecap="butt"/>
<line x1="1099.9" y1="611.8" x2="1115.9" y2="611.8" stroke="#0000e0" stroke-width="3.2" stroke-linecap="round"/>
<rect x="1091.4" y="584.4" width="33.0" height="24.7" fill="none" stroke="#0a0a9a" stroke-width="2.8" rx="1"/>
<line x1="1091.4" y1="606.7" x2="1124.4" y2="606.7" stroke="#0a0a9a" stroke-width="2.8" stroke-linecap="butt"/>
<line x1="843.1" y1="491.0" x2="1057.7" y2="491.0" stroke="#000" stroke-width="3.0" stroke-linecap="round"/>
<text x="956.0" y="479.0" font-size="30" text-anchor="middle" font-family="Liberation Serif" fill="#111" font-style="italic">b</text>
<line x1="848.7" y1="527.8" x2="897.5" y2="527.8" stroke="#000" stroke-width="3.0" stroke-linecap="round"/>
<text x="873.8" y="523.3" font-size="33" text-anchor="middle" font-family="Liberation Serif" fill="#1e1e1e" stroke="#1e1e1e" stroke-width="0.85">*</text>
<line x1="1056.9" y1="530.6" x2="1106.0" y2="530.6" stroke="#000" stroke-width="3.0" stroke-linecap="round"/>
<text x="1068.5" y="528.9" font-size="33" text-anchor="middle" font-family="Liberation Serif" fill="#1e1e1e" stroke="#1e1e1e" stroke-width="0.85">*</text>
<text x="1092.5" y="524.4" font-size="29" text-anchor="middle" font-family="Liberation Serif" fill="#222" stroke="#222" stroke-width="0.6">#</text>
<line x1="905.3" y1="555.1" x2="1106.0" y2="555.1" stroke="#000" stroke-width="3.0" stroke-linecap="round"/>
<text x="1010.4" y="547.3" font-size="30" text-anchor="middle" font-family="Liberation Serif" fill="#111" font-style="italic">b</text>
<text transform="translate(715.2,576.6) rotate(-90)" font-size="32" text-anchor="middle" font-family="Liberation Sans" fill="#000" textLength="110.5" lengthAdjust="spacingAndGlyphs">Relative</text>
<text transform="translate(752.4,570.3) rotate(-90)" font-size="32" text-anchor="middle" font-family="Liberation Sans" fill="#000" textLength="154.0" lengthAdjust="spacingAndGlyphs">expression</text>
<g fill="#1c1c1c" stroke="#1c1c1c" stroke-width="0.15" font-family="Liberation Sans" font-size="30.5">
<text x="665.8" y="701.5" textLength="138.5" lengthAdjust="spacingAndGlyphs">Train (ZT)</text>
<text x="665.8" y="737.5" textLength="60.5" lengthAdjust="spacingAndGlyphs">Test</text>
<text x="744.3" y="737.5" textLength="59.0" lengthAdjust="spacingAndGlyphs">(ZT)</text>
<text x="839.2" y="701.5" textLength="14" lengthAdjust="spacingAndGlyphs">-</text>
<text x="894.2" y="701.5" textLength="14" lengthAdjust="spacingAndGlyphs">-</text>
<text x="954.7" y="701.5" text-anchor="middle">03</text>
<text x="1005.1" y="701.5" text-anchor="middle">03</text>
<text x="1054.1" y="701.5" text-anchor="middle">11</text>
<text x="1105.1" y="701.5" text-anchor="middle">11</text>
<text x="850.0" y="737.5" text-anchor="middle">03</text>
<text x="900.4" y="737.5" text-anchor="middle">11</text>
<text x="954.7" y="737.5" text-anchor="middle">03</text>
<text x="1000.8" y="737.5" text-anchor="middle">11</text>
<text x="1053.3" y="737.5" text-anchor="middle">03</text>
<text x="1102.0" y="737.5" text-anchor="middle">11</text>
</g>
<line x1="1330.8" y1="467.9" x2="1330.8" y2="647.7" stroke="#000" stroke-width="2.8" stroke-linecap="butt"/>
<line x1="1329.4" y1="646.3" x2="1640.2" y2="646.3" stroke="#000" stroke-width="2.8" stroke-linecap="butt"/>
<line x1="1323.8" y1="467.9" x2="1330.8" y2="467.9" stroke="#000" stroke-width="2.8" stroke-linecap="butt"/>
<line x1="1323.8" y1="513.9" x2="1330.8" y2="513.9" stroke="#000" stroke-width="2.8" stroke-linecap="butt"/>
<line x1="1323.8" y1="559.3" x2="1330.8" y2="559.3" stroke="#000" stroke-width="2.8" stroke-linecap="butt"/>
<line x1="1323.8" y1="603.9" x2="1330.8" y2="603.9" stroke="#000" stroke-width="2.8" stroke-linecap="butt"/>
<line x1="1323.8" y1="646.3" x2="1330.8" y2="646.3" stroke="#000" stroke-width="2.8" stroke-linecap="butt"/>
<line x1="1355.9" y1="646.3" x2="1355.9" y2="653.3" stroke="#000" stroke-width="2.8" stroke-linecap="butt"/>
<line x1="1406.1" y1="646.3" x2="1406.1" y2="653.3" stroke="#000" stroke-width="2.8" stroke-linecap="butt"/>
<line x1="1459.0" y1="646.3" x2="1459.0" y2="653.3" stroke="#000" stroke-width="2.8" stroke-linecap="butt"/>
<line x1="1510.0" y1="646.3" x2="1510.0" y2="653.3" stroke="#000" stroke-width="2.8" stroke-linecap="butt"/>
<line x1="1563.6" y1="646.3" x2="1563.6" y2="653.3" stroke="#000" stroke-width="2.8" stroke-linecap="butt"/>
<line x1="1614.3" y1="646.3" x2="1614.3" y2="653.3" stroke="#000" stroke-width="2.8" stroke-linecap="butt"/>
<text x="1285.7" y="481.2" font-size="39" font-family="Liberation Sans" fill="#000" textLength="19.9" lengthAdjust="spacingAndGlyphs">4</text>
<text x="1285.7" y="526.0" font-size="39" font-family="Liberation Sans" fill="#000" textLength="19.9" lengthAdjust="spacingAndGlyphs">3</text>
<text x="1285.7" y="571.3" font-size="39" font-family="Liberation Sans" fill="#000" textLength="19.9" lengthAdjust="spacingAndGlyphs">2</text>
<text x="1285.7" y="616.1" font-size="39" font-family="Liberation Sans" fill="#000" textLength="19.9" lengthAdjust="spacingAndGlyphs">1</text>
<text x="1285.7" y="660.9" font-size="39" font-family="Liberation Sans" fill="#000" textLength="19.9" lengthAdjust="spacingAndGlyphs">0</text>
<line x1="1355.8" y1="597.7" x2="1355.8" y2="606.1" stroke="#0d3b0d" stroke-width="2.8" stroke-linecap="butt"/>
<line x1="1347.4" y1="597.7" x2="1364.3" y2="597.7" stroke="#0d3b0d" stroke-width="3.2" stroke-linecap="round"/>
<rect x="1338.9" y="607.5" width="33.9" height="23.5" fill="none" stroke="#0d3b0d" stroke-width="2.8" rx="1"/>
<line x1="1338.9" y1="629.6" x2="1372.8" y2="629.6" stroke="#0d3b0d" stroke-width="2.8" stroke-linecap="butt"/>
<line x1="1406.3" y1="539.5" x2="1406.3" y2="541.0" stroke="#0a0a9a" stroke-width="2.8" stroke-linecap="butt"/>
<line x1="1397.8" y1="539.5" x2="1414.8" y2="539.5" stroke="#0000e0" stroke-width="3.2" stroke-linecap="round"/>
<rect x="1389.7" y="542.4" width="33.3" height="33.2" fill="none" stroke="#0a0a9a" stroke-width="2.8" rx="1"/>
<line x1="1389.7" y1="564.2" x2="1423.0" y2="564.2" stroke="#0a0a9a" stroke-width="2.8" stroke-linecap="butt"/>
<line x1="1459.7" y1="624.4" x2="1459.7" y2="629.2" stroke="#0d3b0d" stroke-width="2.8" stroke-linecap="butt"/>
<line x1="1451.7" y1="629.2" x2="1467.7" y2="629.2" stroke="#0d3b0d" stroke-width="3.2" stroke-linecap="round"/>
<rect x="1443.2" y="591.2" width="33.0" height="31.8" fill="none" stroke="#0d3b0d" stroke-width="2.8" rx="1"/>
<line x1="1443.2" y1="617.4" x2="1476.2" y2="617.4" stroke="#0d3b0d" stroke-width="2.8" stroke-linecap="butt"/>
<line x1="1510.4" y1="599.2" x2="1510.4" y2="601.3" stroke="#0a0a9a" stroke-width="2.8" stroke-linecap="butt"/>
<line x1="1501.9" y1="601.3" x2="1518.9" y2="601.3" stroke="#0000e0" stroke-width="3.2" stroke-linecap="round"/>
<rect x="1494.0" y="576.9" width="32.9" height="20.9" fill="none" stroke="#0a0a9a" stroke-width="2.8" rx="1"/>
<line x1="1494.0" y1="583.6" x2="1526.9" y2="583.6" stroke="#0a0a9a" stroke-width="2.8" stroke-linecap="butt"/>
<line x1="1562.6" y1="592.8" x2="1562.6" y2="594.8" stroke="#0d3b0d" stroke-width="2.8" stroke-linecap="butt"/>
<line x1="1555.1" y1="592.8" x2="1570.1" y2="592.8" stroke="#0d3b0d" stroke-width="3.2" stroke-linecap="round"/>
<rect x="1544.7" y="596.2" width="35.8" height="15.1" fill="none" stroke="#0d3b0d" stroke-width="2.8" rx="1"/>
<line x1="1544.7" y1="609.9" x2="1580.5" y2="609.9" stroke="#0d3b0d" stroke-width="2.8" stroke-linecap="butt"/>
<line x1="1614.8" y1="591.0" x2="1614.8" y2="589.8" stroke="#0a0a9a" stroke-width="2.8" stroke-linecap="butt"/>
<line x1="1605.8" y1="591.0" x2="1623.8" y2="591.0" stroke="#0000e0" stroke-width="3.2" stroke-linecap="round"/>
<line x1="1614.8" y1="602.4" x2="1614.8" y2="603.0" stroke="#0a0a9a" stroke-width="2.8" stroke-linecap="butt"/>
<line x1="1605.8" y1="603.0" x2="1623.8" y2="603.0" stroke="#0000e0" stroke-width="3.2" stroke-linecap="round"/>
<rect x="1597.9" y="591.2" width="33.7" height="9.8" fill="none" stroke="#0a0a9a" stroke-width="2.8" rx="1"/>
<line x1="1597.9" y1="599.5" x2="1631.6" y2="599.5" stroke="#0a0a9a" stroke-width="2.8" stroke-linecap="butt"/>
<line x1="1349.5" y1="515.8" x2="1406.9" y2="515.8" stroke="#000" stroke-width="3.0" stroke-linecap="round"/>
<text x="1366.2 1388.2" y="509.4" font-size="33" text-anchor="middle" font-family="Liberation Serif" fill="#1e1e1e" stroke="#1e1e1e" stroke-width="0.85">**</text>
<line x1="1414.4" y1="485.2" x2="1609.6" y2="485.2" stroke="#000" stroke-width="3.0" stroke-linecap="round"/>
<text x="1516.2" y="474.8" font-size="30" text-anchor="middle" font-family="Liberation Serif" fill="#111" font-style="italic">b</text>
<line x1="1558.0" y1="533.4" x2="1617.9" y2="533.4" stroke="#000" stroke-width="3.0" stroke-linecap="round"/>
<text x="1592.8" y="523.5" font-size="29" text-anchor="middle" font-family="Liberation Serif" fill="#222" stroke="#222" stroke-width="0.6">#</text>
<text transform="translate(1227.2,557.1) rotate(-90)" font-size="31" text-anchor="middle" font-family="Liberation Sans" fill="#000" textLength="215.8" lengthAdjust="spacingAndGlyphs">Expression ratio</text>
<text transform="translate(1263.7,557.1) rotate(-90)" font-size="29.5" text-anchor="middle" font-family="Liberation Sans" fill="#000" textLength="176.8" lengthAdjust="spacingAndGlyphs">(Nr1d1/Per2)</text>
<g fill="#1c1c1c" stroke="#1c1c1c" stroke-width="0.15" font-family="Liberation Sans" font-size="30.5">
<text x="1172.8" y="698.9" textLength="138.5" lengthAdjust="spacingAndGlyphs">Train (ZT)</text>
<text x="1172.8" y="734.9" textLength="60.5" lengthAdjust="spacingAndGlyphs">Test</text>
<text x="1251.3" y="734.9" textLength="59.0" lengthAdjust="spacingAndGlyphs">(ZT)</text>
<text x="1346.2" y="698.9" textLength="14" lengthAdjust="spacingAndGlyphs">-</text>
<text x="1401.2" y="698.9" textLength="14" lengthAdjust="spacingAndGlyphs">-</text>
<text x="1461.7" y="698.9" text-anchor="middle">03</text>
<text x="1512.1" y="698.9" text-anchor="middle">03</text>
<text x="1561.1" y="698.9" text-anchor="middle">11</text>
<text x="1612.1" y="698.9" text-anchor="middle">11</text>
<text x="1357.0" y="734.9" text-anchor="middle">03</text>
<text x="1407.4" y="734.9" text-anchor="middle">11</text>
<text x="1461.7" y="734.9" text-anchor="middle">03</text>
<text x="1507.8" y="734.9" text-anchor="middle">11</text>
<text x="1560.3" y="734.9" text-anchor="middle">03</text>
<text x="1609.0" y="734.9" text-anchor="middle">11</text>
</g>
<line x1="297.1" y1="803.9" x2="297.1" y2="992.7" stroke="#000" stroke-width="2.8" stroke-linecap="butt"/>
<line x1="295.7" y1="991.3" x2="602.8" y2="991.3" stroke="#000" stroke-width="2.8" stroke-linecap="butt"/>
<line x1="290.1" y1="803.9" x2="297.1" y2="803.9" stroke="#000" stroke-width="2.8" stroke-linecap="butt"/>
<line x1="290.1" y1="851.2" x2="297.1" y2="851.2" stroke="#000" stroke-width="2.8" stroke-linecap="butt"/>
<line x1="290.1" y1="898.1" x2="297.1" y2="898.1" stroke="#000" stroke-width="2.8" stroke-linecap="butt"/>
<line x1="290.1" y1="945.0" x2="297.1" y2="945.0" stroke="#000" stroke-width="2.8" stroke-linecap="butt"/>
<line x1="290.1" y1="991.3" x2="297.1" y2="991.3" stroke="#000" stroke-width="2.8" stroke-linecap="butt"/>
<line x1="322.0" y1="991.3" x2="322.0" y2="998.3" stroke="#000" stroke-width="2.8" stroke-linecap="butt"/>
<line x1="373.0" y1="991.3" x2="373.0" y2="998.3" stroke="#000" stroke-width="2.8" stroke-linecap="butt"/>
<line x1="423.8" y1="991.3" x2="423.8" y2="998.3" stroke="#000" stroke-width="2.8" stroke-linecap="butt"/>
<line x1="475.2" y1="991.3" x2="475.2" y2="998.3" stroke="#000" stroke-width="2.8" stroke-linecap="butt"/>
<line x1="527.0" y1="991.3" x2="527.0" y2="998.3" stroke="#000" stroke-width="2.8" stroke-linecap="butt"/>
<line x1="578.6" y1="991.3" x2="578.6" y2="998.3" stroke="#000" stroke-width="2.8" stroke-linecap="butt"/>
<text x="250.1" y="816.6" font-size="39" font-family="Liberation Sans" fill="#000" textLength="19.9" lengthAdjust="spacingAndGlyphs">4</text>
<text x="250.1" y="861.4" font-size="39" font-family="Liberation Sans" fill="#000" textLength="19.9" lengthAdjust="spacingAndGlyphs">3</text>
<text x="250.1" y="906.3" font-size="39" font-family="Liberation Sans" fill="#000" textLength="19.9" lengthAdjust="spacingAndGlyphs">2</text>
<text x="250.1" y="951.5" font-size="39" font-family="Liberation Sans" fill="#000" textLength="19.9" lengthAdjust="spacingAndGlyphs">1</text>
<text x="250.1" y="996.7" font-size="39" font-family="Liberation Sans" fill="#000" textLength="19.9" lengthAdjust="spacingAndGlyphs">0</text>
<line x1="322.8" y1="956.6" x2="322.8" y2="960.5" stroke="#0d3b0d" stroke-width="2.8" stroke-linecap="butt"/>
<line x1="314.8" y1="960.5" x2="330.8" y2="960.5" stroke="#0d3b0d" stroke-width="3.2" stroke-linecap="round"/>
<rect x="306.9" y="942.5" width="31.7" height="12.7" fill="none" stroke="#0d3b0d" stroke-width="2.8" rx="1"/>
<line x1="306.9" y1="943.5" x2="338.6" y2="943.5" stroke="#0d3b0d" stroke-width="2.8" stroke-linecap="butt"/>
<line x1="373.4" y1="930.8" x2="373.4" y2="932.0" stroke="#0a0a9a" stroke-width="2.8" stroke-linecap="butt"/>
<line x1="365.4" y1="930.8" x2="381.4" y2="930.8" stroke="#0000e0" stroke-width="3.2" stroke-linecap="round"/>
<rect x="357.4" y="933.4" width="32.1" height="13.7" fill="none" stroke="#0a0a9a" stroke-width="2.8" rx="1"/>
<line x1="357.4" y1="934.5" x2="389.5" y2="934.5" stroke="#0a0a9a" stroke-width="2.8" stroke-linecap="butt"/>
<line x1="425.3" y1="964.4" x2="425.3" y2="966.5" stroke="#0d3b0d" stroke-width="2.8" stroke-linecap="butt"/>
<line x1="417.3" y1="966.5" x2="433.3" y2="966.5" stroke="#0d3b0d" stroke-width="3.2" stroke-linecap="round"/>
<rect x="407.8" y="951.4" width="35.0" height="11.6" fill="none" stroke="#0d3b0d" stroke-width="2.8" rx="1"/>
<line x1="407.8" y1="962.0" x2="442.8" y2="962.0" stroke="#0d3b0d" stroke-width="2.8" stroke-linecap="butt"/>
<line x1="475.7" y1="936.5" x2="475.7" y2="940.7" stroke="#0a0a9a" stroke-width="2.8" stroke-linecap="butt"/>
<line x1="468.4" y1="936.5" x2="483.0" y2="936.5" stroke="#0000e0" stroke-width="3.2" stroke-linecap="round"/>
<line x1="475.7" y1="967.5" x2="475.7" y2="973.7" stroke="#0a0a9a" stroke-width="2.8" stroke-linecap="butt"/>
<line x1="468.4" y1="973.7" x2="483.0" y2="973.7" stroke="#0000e0" stroke-width="3.2" stroke-linecap="round"/>
<rect x="459.2" y="942.1" width="33.0" height="24.0" fill="none" stroke="#0a0a9a" stroke-width="2.8" rx="1"/>
<line x1="459.2" y1="946.5" x2="492.2" y2="946.5" stroke="#0a0a9a" stroke-width="2.8" stroke-linecap="butt"/>
<line x1="527.1" y1="948.5" x2="527.1" y2="949.5" stroke="#0d3b0d" stroke-width="2.8" stroke-linecap="butt"/>
<line x1="519.1" y1="948.5" x2="535.1" y2="948.5" stroke="#0d3b0d" stroke-width="3.2" stroke-linecap="round"/>
<line x1="527.1" y1="959.2" x2="527.1" y2="961.0" stroke="#0d3b0d" stroke-width="2.8" stroke-linecap="butt"/>
<line x1="519.1" y1="961.0" x2="535.1" y2="961.0" stroke="#0d3b0d" stroke-width="3.2" stroke-linecap="round"/>
<rect x="510.6" y="950.9" width="33.0" height="6.9" fill="none" stroke="#0d3b0d" stroke-width="2.8" rx="1"/>
<line x1="510.6" y1="955.3" x2="543.6" y2="955.3" stroke="#0d3b0d" stroke-width="2.8" stroke-linecap="butt"/>
<line x1="578.5" y1="936.5" x2="578.5" y2="940.3" stroke="#0a0a9a" stroke-width="2.8" stroke-linecap="butt"/>
<line x1="571.5" y1="936.5" x2="585.5" y2="936.5" stroke="#0000e0" stroke-width="3.2" stroke-linecap="round"/>
<rect x="562.5" y="941.7" width="32.1" height="7.7" fill="none" stroke="#0a0a9a" stroke-width="2.8" rx="1"/>
<line x1="562.5" y1="945.6" x2="594.6" y2="945.6" stroke="#0a0a9a" stroke-width="2.8" stroke-linecap="butt"/>
<text transform="translate(191.7,920.5) rotate(-90)" font-size="32" text-anchor="middle" font-family="Liberation Sans" fill="#000" textLength="108.5" lengthAdjust="spacingAndGlyphs">Relative</text>
<text transform="translate(228.0,913.4) rotate(-90)" font-size="32" text-anchor="middle" font-family="Liberation Sans" fill="#000" textLength="154.2" lengthAdjust="spacingAndGlyphs">expression</text>
<g fill="#1c1c1c" stroke="#1c1c1c" stroke-width="0.15" font-family="Liberation Sans" font-size="30.5">
<text x="131.4" y="1042.1" textLength="138.5" lengthAdjust="spacingAndGlyphs">Train (ZT)</text>
<text x="131.4" y="1078.1" textLength="60.5" lengthAdjust="spacingAndGlyphs">Test</text>
<text x="209.9" y="1078.1" textLength="59.0" lengthAdjust="spacingAndGlyphs">(ZT)</text>
<text x="304.8" y="1042.1" textLength="14" lengthAdjust="spacingAndGlyphs">-</text>
<text x="359.8" y="1042.1" textLength="14" lengthAdjust="spacingAndGlyphs">-</text>
<text x="420.3" y="1042.1" text-anchor="middle">03</text>
<text x="470.7" y="1042.1" text-anchor="middle">03</text>
<text x="519.7" y="1042.1" text-anchor="middle">11</text>
<text x="570.7" y="1042.1" text-anchor="middle">11</text>
<text x="315.6" y="1078.1" text-anchor="middle">03</text>
<text x="366.0" y="1078.1" text-anchor="middle">11</text>
<text x="420.3" y="1078.1" text-anchor="middle">03</text>
<text x="466.4" y="1078.1" text-anchor="middle">11</text>
<text x="518.9" y="1078.1" text-anchor="middle">03</text>
<text x="567.6" y="1078.1" text-anchor="middle">11</text>
</g>
<line x1="817.2" y1="804.5" x2="817.2" y2="990.7" stroke="#000" stroke-width="2.8" stroke-linecap="butt"/>
<line x1="815.8" y1="989.3" x2="1142.3" y2="989.3" stroke="#000" stroke-width="2.8" stroke-linecap="butt"/>
<line x1="810.2" y1="804.5" x2="817.2" y2="804.5" stroke="#000" stroke-width="2.8" stroke-linecap="butt"/>
<line x1="810.2" y1="853.0" x2="817.2" y2="853.0" stroke="#000" stroke-width="2.8" stroke-linecap="butt"/>
<line x1="810.2" y1="897.1" x2="817.2" y2="897.1" stroke="#000" stroke-width="2.8" stroke-linecap="butt"/>
<line x1="810.2" y1="945.3" x2="817.2" y2="945.3" stroke="#000" stroke-width="2.8" stroke-linecap="butt"/>
<line x1="810.2" y1="989.3" x2="817.2" y2="989.3" stroke="#000" stroke-width="2.8" stroke-linecap="butt"/>
<line x1="843.1" y1="989.3" x2="843.1" y2="996.3" stroke="#000" stroke-width="2.8" stroke-linecap="butt"/>
<line x1="900.2" y1="989.3" x2="900.2" y2="996.3" stroke="#000" stroke-width="2.8" stroke-linecap="butt"/>
<line x1="953.2" y1="989.3" x2="953.2" y2="996.3" stroke="#000" stroke-width="2.8" stroke-linecap="butt"/>
<line x1="1009.8" y1="989.3" x2="1009.8" y2="996.3" stroke="#000" stroke-width="2.8" stroke-linecap="butt"/>
<line x1="1062.8" y1="989.3" x2="1062.8" y2="996.3" stroke="#000" stroke-width="2.8" stroke-linecap="butt"/>
<line x1="1116.4" y1="989.3" x2="1116.4" y2="996.3" stroke="#000" stroke-width="2.8" stroke-linecap="butt"/>
<text x="775.7" y="813.5" font-size="39" font-family="Liberation Sans" fill="#000" textLength="19.9" lengthAdjust="spacingAndGlyphs">4</text>
<text x="775.7" y="858.4" font-size="39" font-family="Liberation Sans" fill="#000" textLength="19.9" lengthAdjust="spacingAndGlyphs">3</text>
<text x="775.7" y="903.6" font-size="39" font-family="Liberation Sans" fill="#000" textLength="19.9" lengthAdjust="spacingAndGlyphs">2</text>
<text x="775.7" y="948.5" font-size="39" font-family="Liberation Sans" fill="#000" textLength="19.9" lengthAdjust="spacingAndGlyphs">1</text>
<text x="775.7" y="993.3" font-size="39" font-family="Liberation Sans" fill="#000" textLength="19.9" lengthAdjust="spacingAndGlyphs">0</text>
<line x1="844.3" y1="908.3" x2="844.3" y2="915.8" stroke="#0d3b0d" stroke-width="2.8" stroke-linecap="butt"/>
<line x1="836.4" y1="908.3" x2="852.2" y2="908.3" stroke="#0d3b0d" stroke-width="3.2" stroke-linecap="round"/>
<rect x="826.3" y="917.2" width="36.0" height="24.4" fill="none" stroke="#0d3b0d" stroke-width="2.8" rx="1"/>
<rect x="880.1" y="945.1" width="36.0" height="7.7" fill="none" stroke="#0a0a9a" stroke-width="2.8" rx="1"/>
<line x1="954.1" y1="927.6" x2="954.1" y2="932.5" stroke="#0d3b0d" stroke-width="2.8" stroke-linecap="butt"/>
<line x1="945.7" y1="927.6" x2="962.5" y2="927.6" stroke="#0d3b0d" stroke-width="3.2" stroke-linecap="round"/>
<line x1="954.1" y1="957.1" x2="954.1" y2="958.6" stroke="#0d3b0d" stroke-width="2.8" stroke-linecap="butt"/>
<line x1="945.7" y1="958.6" x2="962.5" y2="958.6" stroke="#0d3b0d" stroke-width="3.2" stroke-linecap="round"/>
<rect x="936.0" y="933.9" width="36.2" height="21.8" fill="none" stroke="#0d3b0d" stroke-width="2.8" rx="1"/>
<line x1="936.0" y1="944.9" x2="972.2" y2="944.9" stroke="#0d3b0d" stroke-width="2.8" stroke-linecap="butt"/>
<line x1="1007.8" y1="965.0" x2="1007.8" y2="973.3" stroke="#0a0a9a" stroke-width="2.8" stroke-linecap="butt"/>
<line x1="999.9" y1="973.3" x2="1015.7" y2="973.3" stroke="#0000e0" stroke-width="3.2" stroke-linecap="round"/>
<rect x="989.8" y="945.7" width="36.0" height="17.9" fill="none" stroke="#0a0a9a" stroke-width="2.8" rx="1"/>
<line x1="989.8" y1="947.7" x2="1025.8" y2="947.7" stroke="#0a0a9a" stroke-width="2.8" stroke-linecap="butt"/>
<line x1="1063.0" y1="936.6" x2="1063.0" y2="938.4" stroke="#0d3b0d" stroke-width="2.8" stroke-linecap="butt"/>
<line x1="1054.8" y1="936.6" x2="1071.2" y2="936.6" stroke="#0d3b0d" stroke-width="3.2" stroke-linecap="round"/>
<line x1="1063.0" y1="960.1" x2="1063.0" y2="964.6" stroke="#0d3b0d" stroke-width="2.8" stroke-linecap="butt"/>
<line x1="1054.8" y1="964.6" x2="1071.2" y2="964.6" stroke="#0d3b0d" stroke-width="3.2" stroke-linecap="round"/>
<rect x="1046.4" y="939.8" width="33.2" height="18.9" fill="none" stroke="#0d3b0d" stroke-width="2.8" rx="1"/>
<line x1="1046.4" y1="947.3" x2="1079.6" y2="947.3" stroke="#0d3b0d" stroke-width="2.8" stroke-linecap="butt"/>
<line x1="1117.8" y1="945.7" x2="1117.8" y2="947.0" stroke="#0a0a9a" stroke-width="2.8" stroke-linecap="butt"/>
<line x1="1108.0" y1="947.0" x2="1127.6" y2="947.0" stroke="#0000e0" stroke-width="3.2" stroke-linecap="round"/>
<rect x="1099.5" y="931.3" width="36.6" height="13.0" fill="none" stroke="#0a0a9a" stroke-width="2.8" rx="1"/>
<line x1="901.6" y1="851.9" x2="1114.3" y2="851.9" stroke="#000" stroke-width="3.0" stroke-linecap="round"/>
<text x="1009.0" y="842.7" font-size="30" text-anchor="middle" font-family="Liberation Serif" fill="#111" font-style="italic">b</text>
<line x1="1062.5" y1="905.5" x2="1117.2" y2="905.5" stroke="#000" stroke-width="3.0" stroke-linecap="round"/>
<text x="1089.8" y="893.5" font-size="29" text-anchor="middle" font-family="Liberation Serif" fill="#222" stroke="#222" stroke-width="0.6">#</text>
<text transform="translate(711.7,911.7) rotate(-90)" font-size="32" text-anchor="middle" font-family="Liberation Sans" fill="#000" textLength="106.3" lengthAdjust="spacingAndGlyphs">Relative</text>
<text transform="translate(749.1,905.4) rotate(-90)" font-size="32" text-anchor="middle" font-family="Liberation Sans" fill="#000" textLength="152.2" lengthAdjust="spacingAndGlyphs">expression</text>
<g fill="#1c1c1c" stroke="#1c1c1c" stroke-width="0.15" font-family="Liberation Sans" font-size="30.5">
<text x="671.7" y="1038.9" textLength="138.5" lengthAdjust="spacingAndGlyphs">Train (ZT)</text>
<text x="671.7" y="1074.9" textLength="60.5" lengthAdjust="spacingAndGlyphs">Test</text>
<text x="750.2" y="1074.9" textLength="59.0" lengthAdjust="spacingAndGlyphs">(ZT)</text>
<text x="845.1" y="1038.9" textLength="14" lengthAdjust="spacingAndGlyphs">-</text>
<text x="900.1" y="1038.9" textLength="14" lengthAdjust="spacingAndGlyphs">-</text>
<text x="960.6" y="1038.9" text-anchor="middle">03</text>
<text x="1011.0" y="1038.9" text-anchor="middle">03</text>
<text x="1060.0" y="1038.9" text-anchor="middle">11</text>
<text x="1111.0" y="1038.9" text-anchor="middle">11</text>
<text x="855.9" y="1074.9" text-anchor="middle">03</text>
<text x="906.3" y="1074.9" text-anchor="middle">11</text>
<text x="960.6" y="1074.9" text-anchor="middle">03</text>
<text x="1006.7" y="1074.9" text-anchor="middle">11</text>
<text x="1059.2" y="1074.9" text-anchor="middle">03</text>
<text x="1107.9" y="1074.9" text-anchor="middle">11</text>
</g>
<line x1="1324.7" y1="800.5" x2="1324.7" y2="990.7" stroke="#000" stroke-width="2.8" stroke-linecap="butt"/>
<line x1="1323.3" y1="989.3" x2="1629.4" y2="989.3" stroke="#000" stroke-width="2.8" stroke-linecap="butt"/>
<line x1="1317.7" y1="800.5" x2="1324.7" y2="800.5" stroke="#000" stroke-width="2.8" stroke-linecap="butt"/>
<line x1="1317.7" y1="848.9" x2="1324.7" y2="848.9" stroke="#000" stroke-width="2.8" stroke-linecap="butt"/>
<line x1="1317.7" y1="894.5" x2="1324.7" y2="894.5" stroke="#000" stroke-width="2.8" stroke-linecap="butt"/>
<line x1="1317.7" y1="942.3" x2="1324.7" y2="942.3" stroke="#000" stroke-width="2.8" stroke-linecap="butt"/>
<line x1="1317.7" y1="989.3" x2="1324.7" y2="989.3" stroke="#000" stroke-width="2.8" stroke-linecap="butt"/>
<line x1="1350.9" y1="989.3" x2="1350.9" y2="996.3" stroke="#000" stroke-width="2.8" stroke-linecap="butt"/>
<line x1="1400.7" y1="989.3" x2="1400.7" y2="996.3" stroke="#000" stroke-width="2.8" stroke-linecap="butt"/>
<line x1="1452.0" y1="989.3" x2="1452.0" y2="996.3" stroke="#000" stroke-width="2.8" stroke-linecap="butt"/>
<line x1="1502.4" y1="989.3" x2="1502.4" y2="996.3" stroke="#000" stroke-width="2.8" stroke-linecap="butt"/>
<line x1="1553.1" y1="989.3" x2="1553.1" y2="996.3" stroke="#000" stroke-width="2.8" stroke-linecap="butt"/>
<line x1="1603.5" y1="989.3" x2="1603.5" y2="996.3" stroke="#000" stroke-width="2.8" stroke-linecap="butt"/>
<text x="1285.3" y="814.1" font-size="39" font-family="Liberation Sans" fill="#000" textLength="19.9" lengthAdjust="spacingAndGlyphs">4</text>
<text x="1285.3" y="859.2" font-size="39" font-family="Liberation Sans" fill="#000" textLength="19.9" lengthAdjust="spacingAndGlyphs">3</text>
<text x="1285.3" y="904.2" font-size="39" font-family="Liberation Sans" fill="#000" textLength="19.9" lengthAdjust="spacingAndGlyphs">2</text>
<text x="1285.3" y="948.8" font-size="39" font-family="Liberation Sans" fill="#000" textLength="19.9" lengthAdjust="spacingAndGlyphs">1</text>
<text x="1285.3" y="994.6" font-size="39" font-family="Liberation Sans" fill="#000" textLength="19.9" lengthAdjust="spacingAndGlyphs">0</text>
<rect x="1333.8" y="945.6" width="33.2" height="15.7" fill="none" stroke="#0d3b0d" stroke-width="2.8" rx="1"/>
<line x1="1333.8" y1="953.8" x2="1367.0" y2="953.8" stroke="#0d3b0d" stroke-width="2.8" stroke-linecap="butt"/>
<line x1="1400.5" y1="927.8" x2="1400.5" y2="929.4" stroke="#0a0a9a" stroke-width="2.8" stroke-linecap="butt"/>
<line x1="1392.0" y1="927.8" x2="1409.0" y2="927.8" stroke="#0000e0" stroke-width="3.2" stroke-linecap="round"/>
<line x1="1400.5" y1="940.0" x2="1400.5" y2="941.5" stroke="#0a0a9a" stroke-width="2.8" stroke-linecap="butt"/>
<line x1="1392.0" y1="941.5" x2="1409.0" y2="941.5" stroke="#0000e0" stroke-width="3.2" stroke-linecap="round"/>
<rect x="1384.1" y="930.8" width="32.8" height="7.8" fill="none" stroke="#0a0a9a" stroke-width="2.8" rx="1"/>
<line x1="1384.1" y1="933.8" x2="1416.9" y2="933.8" stroke="#0a0a9a" stroke-width="2.8" stroke-linecap="butt"/>
<rect x="1435.5" y="947.8" width="32.3" height="13.5" fill="none" stroke="#0d3b0d" stroke-width="2.8" rx="1"/>
<line x1="1435.5" y1="954.2" x2="1467.8" y2="954.2" stroke="#0d3b0d" stroke-width="2.8" stroke-linecap="butt"/>
<line x1="1502.0" y1="948.3" x2="1502.0" y2="950.2" stroke="#0a0a9a" stroke-width="2.8" stroke-linecap="butt"/>
<line x1="1492.5" y1="950.2" x2="1511.5" y2="950.2" stroke="#0000e0" stroke-width="3.2" stroke-linecap="round"/>
<rect x="1485.4" y="931.2" width="33.2" height="15.7" fill="none" stroke="#0a0a9a" stroke-width="2.8" rx="1"/>
<line x1="1485.4" y1="943.7" x2="1518.6" y2="943.7" stroke="#0a0a9a" stroke-width="2.8" stroke-linecap="butt"/>
<line x1="1552.8" y1="936.5" x2="1552.8" y2="938.1" stroke="#0d3b0d" stroke-width="2.8" stroke-linecap="butt"/>
<line x1="1544.8" y1="936.5" x2="1560.8" y2="936.5" stroke="#0d3b0d" stroke-width="3.2" stroke-linecap="round"/>
<line x1="1552.8" y1="958.4" x2="1552.8" y2="959.8" stroke="#0d3b0d" stroke-width="2.8" stroke-linecap="butt"/>
<line x1="1544.8" y1="959.8" x2="1560.8" y2="959.8" stroke="#0d3b0d" stroke-width="3.2" stroke-linecap="round"/>
<rect x="1536.2" y="939.5" width="33.2" height="17.5" fill="none" stroke="#0d3b0d" stroke-width="2.8" rx="1"/>
<line x1="1536.2" y1="942.7" x2="1569.4" y2="942.7" stroke="#0d3b0d" stroke-width="2.8" stroke-linecap="butt"/>
<line x1="1603.5" y1="942.3" x2="1603.5" y2="944.2" stroke="#0a0a9a" stroke-width="2.8" stroke-linecap="butt"/>
<line x1="1595.2" y1="942.3" x2="1611.8" y2="942.3" stroke="#0000e0" stroke-width="3.2" stroke-linecap="round"/>
<line x1="1603.5" y1="952.9" x2="1603.5" y2="959.0" stroke="#0a0a9a" stroke-width="2.8" stroke-linecap="butt"/>
<line x1="1595.2" y1="959.0" x2="1611.8" y2="959.0" stroke="#0000e0" stroke-width="3.2" stroke-linecap="round"/>
<rect x="1586.7" y="945.6" width="33.6" height="5.9" fill="none" stroke="#0a0a9a" stroke-width="2.8" rx="1"/>
<line x1="1586.7" y1="949.2" x2="1620.3" y2="949.2" stroke="#0a0a9a" stroke-width="2.8" stroke-linecap="butt"/>
<line x1="1346.6" y1="885.4" x2="1405.0" y2="885.4" stroke="#000" stroke-width="3.0" stroke-linecap="round"/>
<text x="1373.1" y="873.3" font-size="33" text-anchor="middle" font-family="Liberation Serif" fill="#1e1e1e" stroke="#1e1e1e" stroke-width="0.85">*</text>
<line x1="1412.1" y1="854.6" x2="1601.5" y2="854.6" stroke="#000" stroke-width="3.0" stroke-linecap="round"/>
<text x="1503.3" y="843.2" font-size="30" text-anchor="middle" font-family="Liberation Serif" fill="#111" font-style="italic">b</text>
<line x1="1552.5" y1="904.7" x2="1609.5" y2="904.7" stroke="#000" stroke-width="3.0" stroke-linecap="round"/>
<text x="1580.2" y="895.0" font-size="29" text-anchor="middle" font-family="Liberation Serif" fill="#222" stroke="#222" stroke-width="0.6">#</text>
<text transform="translate(1218.3,898.2) rotate(-90)" font-size="31" text-anchor="middle" font-family="Liberation Sans" fill="#000" textLength="217.6" lengthAdjust="spacingAndGlyphs">Expression ratio</text>
<text transform="translate(1254.8,897.5) rotate(-90)" font-size="29.5" text-anchor="middle" font-family="Liberation Sans" fill="#000" textLength="176.3" lengthAdjust="spacingAndGlyphs">(Nr1d1/Per2)</text>
<g fill="#1c1c1c" stroke="#1c1c1c" stroke-width="0.15" font-family="Liberation Sans" font-size="30.5">
<text x="1163.9" y="1044.5" textLength="138.5" lengthAdjust="spacingAndGlyphs">Train (ZT)</text>
<text x="1163.9" y="1080.5" textLength="60.5" lengthAdjust="spacingAndGlyphs">Test</text>
<text x="1242.4" y="1080.5" textLength="59.0" lengthAdjust="spacingAndGlyphs">(ZT)</text>
<text x="1337.3" y="1044.5" textLength="14" lengthAdjust="spacingAndGlyphs">-</text>
<text x="1392.3" y="1044.5" textLength="14" lengthAdjust="spacingAndGlyphs">-</text>
<text x="1452.8" y="1044.5" text-anchor="middle">03</text>
<text x="1503.2" y="1044.5" text-anchor="middle">03</text>
<text x="1552.2" y="1044.5" text-anchor="middle">11</text>
<text x="1603.2" y="1044.5" text-anchor="middle">11</text>
<text x="1348.1" y="1080.5" text-anchor="middle">03</text>
<text x="1398.5" y="1080.5" text-anchor="middle">11</text>
<text x="1452.8" y="1080.5" text-anchor="middle">03</text>
<text x="1498.9" y="1080.5" text-anchor="middle">11</text>
<text x="1551.4" y="1080.5" text-anchor="middle">03</text>
<text x="1600.1" y="1080.5" text-anchor="middle">11</text>
</g>
<line x1="291.5" y1="1159.1" x2="291.5" y2="1345.7" stroke="#000" stroke-width="2.8" stroke-linecap="butt"/>
<line x1="290.1" y1="1344.3" x2="601.3" y2="1344.3" stroke="#000" stroke-width="2.8" stroke-linecap="butt"/>
<line x1="284.5" y1="1159.1" x2="291.5" y2="1159.1" stroke="#000" stroke-width="2.8" stroke-linecap="butt"/>
<line x1="284.5" y1="1206.3" x2="291.5" y2="1206.3" stroke="#000" stroke-width="2.8" stroke-linecap="butt"/>
<line x1="284.5" y1="1252.0" x2="291.5" y2="1252.0" stroke="#000" stroke-width="2.8" stroke-linecap="butt"/>
<line x1="284.5" y1="1299.3" x2="291.5" y2="1299.3" stroke="#000" stroke-width="2.8" stroke-linecap="butt"/>
<line x1="284.5" y1="1344.3" x2="291.5" y2="1344.3" stroke="#000" stroke-width="2.8" stroke-linecap="butt"/>
<line x1="316.8" y1="1344.3" x2="316.8" y2="1351.3" stroke="#000" stroke-width="2.8" stroke-linecap="butt"/>
<line x1="367.6" y1="1344.3" x2="367.6" y2="1351.3" stroke="#000" stroke-width="2.8" stroke-linecap="butt"/>
<line x1="420.9" y1="1344.3" x2="420.9" y2="1351.3" stroke="#000" stroke-width="2.8" stroke-linecap="butt"/>
<line x1="471.3" y1="1344.3" x2="471.3" y2="1351.3" stroke="#000" stroke-width="2.8" stroke-linecap="butt"/>
<line x1="524.7" y1="1344.3" x2="524.7" y2="1351.3" stroke="#000" stroke-width="2.8" stroke-linecap="butt"/>
<line x1="575.1" y1="1344.3" x2="575.1" y2="1351.3" stroke="#000" stroke-width="2.8" stroke-linecap="butt"/>
<text x="249.5" y="1177.0" font-size="39" font-family="Liberation Sans" fill="#000" textLength="19.9" lengthAdjust="spacingAndGlyphs">4</text>
<text x="249.5" y="1221.8" font-size="39" font-family="Liberation Sans" fill="#000" textLength="19.9" lengthAdjust="spacingAndGlyphs">3</text>
<text x="249.5" y="1267.0" font-size="39" font-family="Liberation Sans" fill="#000" textLength="19.9" lengthAdjust="spacingAndGlyphs">2</text>
<text x="249.5" y="1312.3" font-size="39" font-family="Liberation Sans" fill="#000" textLength="19.9" lengthAdjust="spacingAndGlyphs">1</text>
<text x="249.5" y="1357.5" font-size="39" font-family="Liberation Sans" fill="#000" textLength="19.9" lengthAdjust="spacingAndGlyphs">0</text>
<line x1="316.9" y1="1317.0" x2="316.9" y2="1319.0" stroke="#0d3b0d" stroke-width="2.8" stroke-linecap="butt"/>
<line x1="308.9" y1="1317.0" x2="324.9" y2="1317.0" stroke="#0d3b0d" stroke-width="3.2" stroke-linecap="round"/>
<rect x="300.7" y="1320.4" width="32.3" height="11.9" fill="none" stroke="#0d3b0d" stroke-width="2.8" rx="1"/>
<line x1="300.7" y1="1326.2" x2="333.0" y2="1326.2" stroke="#0d3b0d" stroke-width="2.8" stroke-linecap="butt"/>
<line x1="367.5" y1="1268.6" x2="367.5" y2="1270.6" stroke="#0a0a9a" stroke-width="2.8" stroke-linecap="butt"/>
<line x1="359.5" y1="1268.6" x2="375.5" y2="1268.6" stroke="#0000e0" stroke-width="3.2" stroke-linecap="round"/>
<line x1="367.5" y1="1303.1" x2="367.5" y2="1305.0" stroke="#0a0a9a" stroke-width="2.8" stroke-linecap="butt"/>
<line x1="359.5" y1="1305.0" x2="375.5" y2="1305.0" stroke="#0000e0" stroke-width="3.2" stroke-linecap="round"/>
<rect x="351.4" y="1272.0" width="32.2" height="29.7" fill="none" stroke="#0a0a9a" stroke-width="2.8" rx="1"/>
<line x1="351.4" y1="1288.0" x2="383.6" y2="1288.0" stroke="#0a0a9a" stroke-width="2.8" stroke-linecap="butt"/>
<line x1="420.9" y1="1308.6" x2="420.9" y2="1310.3" stroke="#0d3b0d" stroke-width="2.8" stroke-linecap="butt"/>
<line x1="412.9" y1="1308.6" x2="428.9" y2="1308.6" stroke="#0d3b0d" stroke-width="3.2" stroke-linecap="round"/>
<line x1="420.9" y1="1322.9" x2="420.9" y2="1324.9" stroke="#0d3b0d" stroke-width="2.8" stroke-linecap="butt"/>
<line x1="412.9" y1="1324.9" x2="428.9" y2="1324.9" stroke="#0d3b0d" stroke-width="3.2" stroke-linecap="round"/>
<rect x="404.9" y="1311.7" width="32.1" height="9.8" fill="none" stroke="#0d3b0d" stroke-width="2.8" rx="1"/>
<line x1="404.9" y1="1319.0" x2="437.0" y2="1319.0" stroke="#0d3b0d" stroke-width="2.8" stroke-linecap="butt"/>
<line x1="471.6" y1="1309.0" x2="471.6" y2="1310.9" stroke="#0a0a9a" stroke-width="2.8" stroke-linecap="butt"/>
<line x1="463.6" y1="1310.9" x2="479.6" y2="1310.9" stroke="#0000e0" stroke-width="3.2" stroke-linecap="round"/>
<rect x="455.9" y="1283.6" width="31.5" height="24.0" fill="none" stroke="#0a0a9a" stroke-width="2.8" rx="1"/>
<line x1="455.9" y1="1287.0" x2="487.4" y2="1287.0" stroke="#0a0a9a" stroke-width="2.8" stroke-linecap="butt"/>
<line x1="523.9" y1="1311.0" x2="523.9" y2="1313.2" stroke="#0d3b0d" stroke-width="2.8" stroke-linecap="butt"/>
<line x1="516.1" y1="1311.0" x2="531.7" y2="1311.0" stroke="#0d3b0d" stroke-width="3.2" stroke-linecap="round"/>
<line x1="523.9" y1="1325.2" x2="523.9" y2="1330.7" stroke="#0d3b0d" stroke-width="2.8" stroke-linecap="butt"/>
<line x1="516.1" y1="1330.7" x2="531.7" y2="1330.7" stroke="#0d3b0d" stroke-width="3.2" stroke-linecap="round"/>
<rect x="506.7" y="1314.6" width="34.4" height="9.2" fill="none" stroke="#0d3b0d" stroke-width="2.8" rx="1"/>
<line x1="506.7" y1="1316.1" x2="541.1" y2="1316.1" stroke="#0d3b0d" stroke-width="2.8" stroke-linecap="butt"/>
<line x1="576.0" y1="1294.2" x2="576.0" y2="1299.6" stroke="#0a0a9a" stroke-width="2.8" stroke-linecap="butt"/>
<line x1="566.8" y1="1299.6" x2="585.2" y2="1299.6" stroke="#0000e0" stroke-width="3.2" stroke-linecap="round"/>
<rect x="560.0" y="1280.7" width="32.1" height="12.1" fill="none" stroke="#0a0a9a" stroke-width="2.8" rx="1"/>
<line x1="310.2" y1="1206.4" x2="365.6" y2="1206.4" stroke="#000" stroke-width="3.0" stroke-linecap="round"/>
<text x="317.1 339.0 360.9" y="1199.4" font-size="33" text-anchor="middle" font-family="Liberation Serif" fill="#1e1e1e" stroke="#1e1e1e" stroke-width="0.85">***</text>
<line x1="414.1" y1="1206.5" x2="466.9" y2="1206.5" stroke="#000" stroke-width="3.0" stroke-linecap="round"/>
<text x="443.2" y="1199.2" font-size="33" text-anchor="middle" font-family="Liberation Serif" fill="#1e1e1e" stroke="#1e1e1e" stroke-width="0.85">*</text>
<line x1="524.3" y1="1206.5" x2="580.0" y2="1206.5" stroke="#000" stroke-width="3.0" stroke-linecap="round"/>
<text x="532.4 553.2 574.1" y="1199.4" font-size="33" text-anchor="middle" font-family="Liberation Serif" fill="#1e1e1e" stroke="#1e1e1e" stroke-width="0.85">***</text>
<text transform="translate(186.6,1262.7) rotate(-90)" font-size="32" text-anchor="middle" font-family="Liberation Sans" fill="#000" textLength="109.7" lengthAdjust="spacingAndGlyphs">Relative</text>
<text transform="translate(221.5,1257.7) rotate(-90)" font-size="32" text-anchor="middle" font-family="Liberation Sans" fill="#000" textLength="154.6" lengthAdjust="spacingAndGlyphs">expression</text>
<g fill="#1c1c1c" stroke="#1c1c1c" stroke-width="0.15" font-family="Liberation Sans" font-size="30.5">
<text x="134.3" y="1396.5" textLength="138.5" lengthAdjust="spacingAndGlyphs">Train (ZT)</text>
<text x="134.3" y="1432.5" textLength="60.5" lengthAdjust="spacingAndGlyphs">Test</text>
<text x="212.8" y="1432.5" textLength="59.0" lengthAdjust="spacingAndGlyphs">(ZT)</text>
<text x="307.7" y="1396.5" textLength="14" lengthAdjust="spacingAndGlyphs">-</text>
<text x="362.7" y="1396.5" textLength="14" lengthAdjust="spacingAndGlyphs">-</text>
<text x="423.2" y="1396.5" text-anchor="middle">03</text>
<text x="473.6" y="1396.5" text-anchor="middle">03</text>
<text x="522.6" y="1396.5" text-anchor="middle">11</text>
<text x="573.6" y="1396.5" text-anchor="middle">11</text>
<text x="318.5" y="1432.5" text-anchor="middle">03</text>
<text x="368.9" y="1432.5" text-anchor="middle">11</text>
<text x="423.2" y="1432.5" text-anchor="middle">03</text>
<text x="469.3" y="1432.5" text-anchor="middle">11</text>
<text x="521.8" y="1432.5" text-anchor="middle">03</text>
<text x="570.5" y="1432.5" text-anchor="middle">11</text>
</g>
<line x1="811.0" y1="1160.5" x2="811.0" y2="1345.0" stroke="#000" stroke-width="2.8" stroke-linecap="butt"/>
<line x1="809.6" y1="1343.6" x2="1115.7" y2="1343.6" stroke="#000" stroke-width="2.8" stroke-linecap="butt"/>
<line x1="804.0" y1="1160.5" x2="811.0" y2="1160.5" stroke="#000" stroke-width="2.8" stroke-linecap="butt"/>
<line x1="804.0" y1="1206.9" x2="811.0" y2="1206.9" stroke="#000" stroke-width="2.8" stroke-linecap="butt"/>
<line x1="804.0" y1="1253.4" x2="811.0" y2="1253.4" stroke="#000" stroke-width="2.8" stroke-linecap="butt"/>
<line x1="804.0" y1="1298.9" x2="811.0" y2="1298.9" stroke="#000" stroke-width="2.8" stroke-linecap="butt"/>
<line x1="804.0" y1="1343.6" x2="811.0" y2="1343.6" stroke="#000" stroke-width="2.8" stroke-linecap="butt"/>
<line x1="837.5" y1="1343.6" x2="837.5" y2="1350.6" stroke="#000" stroke-width="2.8" stroke-linecap="butt"/>
<line x1="888.5" y1="1343.6" x2="888.5" y2="1350.6" stroke="#000" stroke-width="2.8" stroke-linecap="butt"/>
<line x1="938.3" y1="1343.6" x2="938.3" y2="1350.6" stroke="#000" stroke-width="2.8" stroke-linecap="butt"/>
<line x1="989.6" y1="1343.6" x2="989.6" y2="1350.6" stroke="#000" stroke-width="2.8" stroke-linecap="butt"/>
<line x1="1040.3" y1="1343.6" x2="1040.3" y2="1350.6" stroke="#000" stroke-width="2.8" stroke-linecap="butt"/>
<line x1="1090.7" y1="1343.6" x2="1090.7" y2="1350.6" stroke="#000" stroke-width="2.8" stroke-linecap="butt"/>
<text x="768.2" y="1179.7" font-size="39" font-family="Liberation Sans" fill="#000" textLength="19.9" lengthAdjust="spacingAndGlyphs">4</text>
<text x="768.2" y="1224.6" font-size="39" font-family="Liberation Sans" fill="#000" textLength="19.9" lengthAdjust="spacingAndGlyphs">3</text>
<text x="768.2" y="1269.4" font-size="39" font-family="Liberation Sans" fill="#000" textLength="19.9" lengthAdjust="spacingAndGlyphs">2</text>
<text x="768.2" y="1314.6" font-size="39" font-family="Liberation Sans" fill="#000" textLength="19.9" lengthAdjust="spacingAndGlyphs">1</text>
<text x="768.2" y="1359.8" font-size="39" font-family="Liberation Sans" fill="#000" textLength="19.9" lengthAdjust="spacingAndGlyphs">0</text>
<line x1="837.7" y1="1269.5" x2="837.7" y2="1270.7" stroke="#0d3b0d" stroke-width="2.8" stroke-linecap="butt"/>
<line x1="829.7" y1="1269.5" x2="845.7" y2="1269.5" stroke="#0d3b0d" stroke-width="3.2" stroke-linecap="round"/>
<line x1="837.7" y1="1314.0" x2="837.7" y2="1313.0" stroke="#0d3b0d" stroke-width="2.8" stroke-linecap="butt"/>
<line x1="829.7" y1="1313.0" x2="845.7" y2="1313.0" stroke="#0d3b0d" stroke-width="3.2" stroke-linecap="round"/>
<rect x="820.8" y="1272.1" width="33.8" height="40.5" fill="none" stroke="#0d3b0d" stroke-width="2.8" rx="1"/>
<line x1="820.8" y1="1298.5" x2="854.6" y2="1298.5" stroke="#0d3b0d" stroke-width="2.8" stroke-linecap="butt"/>
<line x1="888.7" y1="1280.1" x2="888.7" y2="1285.3" stroke="#0a0a9a" stroke-width="2.8" stroke-linecap="butt"/>
<line x1="880.7" y1="1280.1" x2="896.7" y2="1280.1" stroke="#0000e0" stroke-width="3.2" stroke-linecap="round"/>
<line x1="888.7" y1="1313.7" x2="888.7" y2="1316.0" stroke="#0a0a9a" stroke-width="2.8" stroke-linecap="butt"/>
<line x1="880.7" y1="1316.0" x2="896.7" y2="1316.0" stroke="#0000e0" stroke-width="3.2" stroke-linecap="round"/>
<rect x="873.0" y="1286.7" width="31.4" height="25.6" fill="none" stroke="#0a0a9a" stroke-width="2.8" rx="1"/>
<line x1="873.0" y1="1300.1" x2="904.4" y2="1300.1" stroke="#0a0a9a" stroke-width="2.8" stroke-linecap="butt"/>
<line x1="938.9" y1="1259.6" x2="938.9" y2="1273.9" stroke="#0d3b0d" stroke-width="2.8" stroke-linecap="butt"/>
<line x1="929.6" y1="1259.6" x2="948.1" y2="1259.6" stroke="#0d3b0d" stroke-width="3.2" stroke-linecap="round"/>
<rect x="922.9" y="1275.3" width="31.9" height="24.8" fill="none" stroke="#0d3b0d" stroke-width="2.8" rx="1"/>
<line x1="922.9" y1="1299.5" x2="954.8" y2="1299.5" stroke="#0d3b0d" stroke-width="2.8" stroke-linecap="butt"/>
<rect x="973.4" y="1297.4" width="32.9" height="12.9" fill="none" stroke="#0a0a9a" stroke-width="2.8" rx="1"/>
<line x1="973.4" y1="1302.0" x2="1006.3" y2="1302.0" stroke="#0a0a9a" stroke-width="2.8" stroke-linecap="butt"/>
<line x1="1040.6" y1="1268.5" x2="1040.6" y2="1271.0" stroke="#0d3b0d" stroke-width="2.8" stroke-linecap="butt"/>
<line x1="1032.7" y1="1268.5" x2="1048.4" y2="1268.5" stroke="#0d3b0d" stroke-width="3.2" stroke-linecap="round"/>
<line x1="1040.6" y1="1302.9" x2="1040.6" y2="1307.5" stroke="#0d3b0d" stroke-width="2.8" stroke-linecap="butt"/>
<line x1="1032.7" y1="1307.5" x2="1048.4" y2="1307.5" stroke="#0d3b0d" stroke-width="3.2" stroke-linecap="round"/>
<rect x="1024.6" y="1272.4" width="31.9" height="29.1" fill="none" stroke="#0d3b0d" stroke-width="2.8" rx="1"/>
<line x1="1024.6" y1="1282.4" x2="1056.5" y2="1282.4" stroke="#0d3b0d" stroke-width="2.8" stroke-linecap="butt"/>
<line x1="1091.2" y1="1288.1" x2="1091.2" y2="1292.9" stroke="#0a0a9a" stroke-width="2.8" stroke-linecap="butt"/>
<line x1="1083.5" y1="1288.1" x2="1099.0" y2="1288.1" stroke="#0000e0" stroke-width="3.2" stroke-linecap="round"/>
<rect x="1075.3" y="1294.3" width="31.9" height="20.9" fill="none" stroke="#0a0a9a" stroke-width="2.8" rx="1"/>
<line x1="1075.3" y1="1308.6" x2="1107.2" y2="1308.6" stroke="#0a0a9a" stroke-width="2.8" stroke-linecap="butt"/>
<text transform="translate(707.0,1266.7) rotate(-90)" font-size="32" text-anchor="middle" font-family="Liberation Sans" fill="#000" textLength="107.0" lengthAdjust="spacingAndGlyphs">Relative</text>
<text transform="translate(743.1,1261.0) rotate(-90)" font-size="32" text-anchor="middle" font-family="Liberation Sans" fill="#000" textLength="152.4" lengthAdjust="spacingAndGlyphs">expression</text>
<g fill="#1c1c1c" stroke="#1c1c1c" stroke-width="0.15" font-family="Liberation Sans" font-size="30.5">
<text x="652.8" y="1396.5" textLength="138.5" lengthAdjust="spacingAndGlyphs">Train (ZT)</text>
<text x="652.8" y="1432.5" textLength="60.5" lengthAdjust="spacingAndGlyphs">Test</text>
<text x="731.3" y="1432.5" textLength="59.0" lengthAdjust="spacingAndGlyphs">(ZT)</text>
<text x="826.2" y="1396.5" textLength="14" lengthAdjust="spacingAndGlyphs">-</text>
<text x="881.2" y="1396.5" textLength="14" lengthAdjust="spacingAndGlyphs">-</text>
<text x="941.7" y="1396.5" text-anchor="middle">03</text>
<text x="992.1" y="1396.5" text-anchor="middle">03</text>
<text x="1041.1" y="1396.5" text-anchor="middle">11</text>
<text x="1092.1" y="1396.5" text-anchor="middle">11</text>
<text x="837.0" y="1432.5" text-anchor="middle">03</text>
<text x="887.4" y="1432.5" text-anchor="middle">11</text>
<text x="941.7" y="1432.5" text-anchor="middle">03</text>
<text x="987.8" y="1432.5" text-anchor="middle">11</text>
<text x="1040.3" y="1432.5" text-anchor="middle">03</text>
<text x="1089.0" y="1432.5" text-anchor="middle">11</text>
</g>
<line x1="1319.8" y1="1160.9" x2="1319.8" y2="1342.4" stroke="#000" stroke-width="2.8" stroke-linecap="butt"/>
<line x1="1318.4" y1="1341.0" x2="1626.7" y2="1341.0" stroke="#000" stroke-width="2.8" stroke-linecap="butt"/>
<line x1="1312.8" y1="1160.9" x2="1319.8" y2="1160.9" stroke="#000" stroke-width="2.8" stroke-linecap="butt"/>
<line x1="1312.8" y1="1207.5" x2="1319.8" y2="1207.5" stroke="#000" stroke-width="2.8" stroke-linecap="butt"/>
<line x1="1312.8" y1="1252.0" x2="1319.8" y2="1252.0" stroke="#000" stroke-width="2.8" stroke-linecap="butt"/>
<line x1="1312.8" y1="1297.1" x2="1319.8" y2="1297.1" stroke="#000" stroke-width="2.8" stroke-linecap="butt"/>
<line x1="1312.8" y1="1341.0" x2="1319.8" y2="1341.0" stroke="#000" stroke-width="2.8" stroke-linecap="butt"/>
<line x1="1346.9" y1="1341.0" x2="1346.9" y2="1348.0" stroke="#000" stroke-width="2.8" stroke-linecap="butt"/>
<line x1="1397.8" y1="1341.0" x2="1397.8" y2="1348.0" stroke="#000" stroke-width="2.8" stroke-linecap="butt"/>
<line x1="1448.7" y1="1341.0" x2="1448.7" y2="1348.0" stroke="#000" stroke-width="2.8" stroke-linecap="butt"/>
<line x1="1499.3" y1="1341.0" x2="1499.3" y2="1348.0" stroke="#000" stroke-width="2.8" stroke-linecap="butt"/>
<line x1="1549.6" y1="1341.0" x2="1549.6" y2="1348.0" stroke="#000" stroke-width="2.8" stroke-linecap="butt"/>
<line x1="1600.5" y1="1341.0" x2="1600.5" y2="1348.0" stroke="#000" stroke-width="2.8" stroke-linecap="butt"/>
<text x="1279.4" y="1179.5" font-size="39" font-family="Liberation Sans" fill="#000" textLength="19.9" lengthAdjust="spacingAndGlyphs">4</text>
<text x="1279.4" y="1224.5" font-size="39" font-family="Liberation Sans" fill="#000" textLength="19.9" lengthAdjust="spacingAndGlyphs">3</text>
<text x="1279.4" y="1270.4" font-size="39" font-family="Liberation Sans" fill="#000" textLength="19.9" lengthAdjust="spacingAndGlyphs">2</text>
<text x="1279.4" y="1315.0" font-size="39" font-family="Liberation Sans" fill="#000" textLength="19.9" lengthAdjust="spacingAndGlyphs">1</text>
<text x="1279.4" y="1360.4" font-size="39" font-family="Liberation Sans" fill="#000" textLength="19.9" lengthAdjust="spacingAndGlyphs">0</text>
<line x1="1347.2" y1="1316.6" x2="1347.2" y2="1318.3" stroke="#0d3b0d" stroke-width="2.8" stroke-linecap="butt"/>
<line x1="1339.2" y1="1316.6" x2="1355.2" y2="1316.6" stroke="#0d3b0d" stroke-width="3.2" stroke-linecap="round"/>
<rect x="1330.8" y="1319.7" width="32.9" height="13.2" fill="none" stroke="#0d3b0d" stroke-width="2.8" rx="1"/>
<line x1="1330.8" y1="1325.8" x2="1363.7" y2="1325.8" stroke="#0d3b0d" stroke-width="2.8" stroke-linecap="butt"/>
<line x1="1398.5" y1="1294.2" x2="1398.5" y2="1296.3" stroke="#0a0a9a" stroke-width="2.8" stroke-linecap="butt"/>
<line x1="1390.5" y1="1296.3" x2="1406.5" y2="1296.3" stroke="#0000e0" stroke-width="3.2" stroke-linecap="round"/>
<rect x="1383.2" y="1275.2" width="30.6" height="17.6" fill="none" stroke="#0a0a9a" stroke-width="2.8" rx="1"/>
<line x1="1383.2" y1="1282.5" x2="1413.8" y2="1282.5" stroke="#0a0a9a" stroke-width="2.8" stroke-linecap="butt"/>
<line x1="1448.7" y1="1311.0" x2="1448.7" y2="1313.1" stroke="#0d3b0d" stroke-width="2.8" stroke-linecap="butt"/>
<line x1="1441.4" y1="1311.0" x2="1455.9" y2="1311.0" stroke="#0d3b0d" stroke-width="3.2" stroke-linecap="round"/>
<line x1="1448.7" y1="1325.3" x2="1448.7" y2="1330.5" stroke="#0d3b0d" stroke-width="2.8" stroke-linecap="butt"/>
<line x1="1441.4" y1="1330.5" x2="1455.9" y2="1330.5" stroke="#0d3b0d" stroke-width="3.2" stroke-linecap="round"/>
<rect x="1432.6" y="1314.5" width="32.1" height="9.4" fill="none" stroke="#0d3b0d" stroke-width="2.8" rx="1"/>
<line x1="1432.6" y1="1318.0" x2="1464.7" y2="1318.0" stroke="#0d3b0d" stroke-width="2.8" stroke-linecap="butt"/>
<line x1="1499.3" y1="1257.2" x2="1499.3" y2="1262.2" stroke="#0a0a9a" stroke-width="2.8" stroke-linecap="butt"/>
<line x1="1492.0" y1="1257.2" x2="1506.6" y2="1257.2" stroke="#0000e0" stroke-width="3.2" stroke-linecap="round"/>
<line x1="1499.3" y1="1299.4" x2="1499.3" y2="1301.3" stroke="#0a0a9a" stroke-width="2.8" stroke-linecap="butt"/>
<line x1="1492.0" y1="1301.3" x2="1506.6" y2="1301.3" stroke="#0000e0" stroke-width="3.2" stroke-linecap="round"/>
<rect x="1483.3" y="1263.6" width="32.1" height="34.4" fill="none" stroke="#0a0a9a" stroke-width="2.8" rx="1"/>
<line x1="1483.3" y1="1289.2" x2="1515.4" y2="1289.2" stroke="#0a0a9a" stroke-width="2.8" stroke-linecap="butt"/>
<line x1="1550.0" y1="1308.1" x2="1550.0" y2="1313.7" stroke="#0d3b0d" stroke-width="2.8" stroke-linecap="butt"/>
<line x1="1542.0" y1="1308.1" x2="1558.0" y2="1308.1" stroke="#0d3b0d" stroke-width="3.2" stroke-linecap="round"/>
<line x1="1550.0" y1="1327.6" x2="1550.0" y2="1332.9" stroke="#0d3b0d" stroke-width="2.8" stroke-linecap="butt"/>
<line x1="1542.0" y1="1332.9" x2="1558.0" y2="1332.9" stroke="#0d3b0d" stroke-width="3.2" stroke-linecap="round"/>
<rect x="1534.4" y="1315.1" width="31.3" height="11.1" fill="none" stroke="#0d3b0d" stroke-width="2.8" rx="1"/>
<line x1="1534.4" y1="1319.5" x2="1565.7" y2="1319.5" stroke="#0d3b0d" stroke-width="2.8" stroke-linecap="butt"/>
<line x1="1600.8" y1="1254.3" x2="1600.8" y2="1259.9" stroke="#0a0a9a" stroke-width="2.8" stroke-linecap="butt"/>
<line x1="1592.8" y1="1254.3" x2="1608.8" y2="1254.3" stroke="#0000e0" stroke-width="3.2" stroke-linecap="round"/>
<line x1="1600.8" y1="1285.5" x2="1600.8" y2="1290.7" stroke="#0a0a9a" stroke-width="2.8" stroke-linecap="butt"/>
<line x1="1592.8" y1="1290.7" x2="1608.8" y2="1290.7" stroke="#0000e0" stroke-width="3.2" stroke-linecap="round"/>
<rect x="1585.1" y="1261.3" width="31.5" height="22.8" fill="none" stroke="#0a0a9a" stroke-width="2.8" rx="1"/>
<line x1="1585.1" y1="1274.4" x2="1616.6" y2="1274.4" stroke="#0a0a9a" stroke-width="2.8" stroke-linecap="butt"/>
<line x1="1346.9" y1="1206.9" x2="1398.4" y2="1206.9" stroke="#000" stroke-width="3.0" stroke-linecap="round"/>
<text x="1363.0 1385.8" y="1204.5" font-size="33" text-anchor="middle" font-family="Liberation Serif" fill="#1e1e1e" stroke="#1e1e1e" stroke-width="0.85">**</text>
<line x1="1445.8" y1="1209.8" x2="1497.3" y2="1209.8" stroke="#000" stroke-width="3.0" stroke-linecap="round"/>
<text x="1461.8 1483.2" y="1206.8" font-size="33" text-anchor="middle" font-family="Liberation Serif" fill="#1e1e1e" stroke="#1e1e1e" stroke-width="0.85">**</text>
<line x1="1546.7" y1="1209.8" x2="1598.2" y2="1209.8" stroke="#000" stroke-width="3.0" stroke-linecap="round"/>
<text x="1566.5 1585.0" y="1206.8" font-size="33" text-anchor="middle" font-family="Liberation Serif" fill="#1e1e1e" stroke="#1e1e1e" stroke-width="0.85">**</text>
<text transform="translate(1210.7,1258.5) rotate(-90)" font-size="31" text-anchor="middle" font-family="Liberation Sans" fill="#000" textLength="217.9" lengthAdjust="spacingAndGlyphs">Expression ratio</text>
<text transform="translate(1245.5,1257.0) rotate(-90)" font-size="29.5" text-anchor="middle" font-family="Liberation Sans" fill="#000" textLength="177.1" lengthAdjust="spacingAndGlyphs">(Nr1d1/Per2)</text>
<g fill="#1c1c1c" stroke="#1c1c1c" stroke-width="0.15" font-family="Liberation Sans" font-size="30.5">
<text x="1162.4" y="1396.5" textLength="138.5" lengthAdjust="spacingAndGlyphs">Train (ZT)</text>
<text x="1162.4" y="1432.5" textLength="60.5" lengthAdjust="spacingAndGlyphs">Test</text>
<text x="1240.9" y="1432.5" textLength="59.0" lengthAdjust="spacingAndGlyphs">(ZT)</text>
<text x="1335.8" y="1396.5" textLength="14" lengthAdjust="spacingAndGlyphs">-</text>
<text x="1390.8" y="1396.5" textLength="14" lengthAdjust="spacingAndGlyphs">-</text>
<text x="1451.3" y="1396.5" text-anchor="middle">03</text>
<text x="1501.7" y="1396.5" text-anchor="middle">03</text>
<text x="1550.7" y="1396.5" text-anchor="middle">11</text>
<text x="1601.7" y="1396.5" text-anchor="middle">11</text>
<text x="1346.6" y="1432.5" text-anchor="middle">03</text>
<text x="1397.0" y="1432.5" text-anchor="middle">11</text>
<text x="1451.3" y="1432.5" text-anchor="middle">03</text>
<text x="1497.4" y="1432.5" text-anchor="middle">11</text>
<text x="1549.9" y="1432.5" text-anchor="middle">03</text>
<text x="1598.6" y="1432.5" text-anchor="middle">11</text>
</g>
</svg></body></html>
